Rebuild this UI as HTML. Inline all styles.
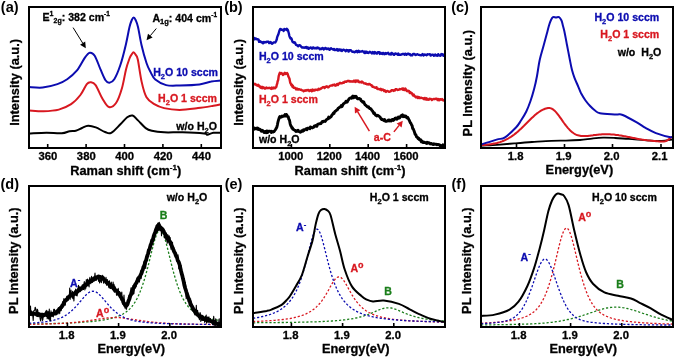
<!DOCTYPE html>
<html><head><meta charset="utf-8"><style>
html,body{margin:0;padding:0;background:#fff;width:675px;height:357px;overflow:hidden}
svg{display:block;will-change:transform}
</style></head><body><svg width="675" height="357" viewBox="0 0 675 357" font-family='"Liberation Sans", sans-serif' font-weight="bold"><clipPath id="cp1"><rect x="29" y="7" width="192" height="141"/></clipPath>
<g clip-path="url(#cp1)">
<path d="M29.0,133.5 C31.9,133.4 41.0,132.9 46.5,132.8 C52.0,132.8 58.0,133.5 61.9,133.2 C65.8,132.9 67.3,131.6 69.6,131.2 C71.9,130.8 73.7,131.2 75.8,130.7 C77.9,130.2 80.0,128.8 82.0,128.0 C84.0,127.2 85.8,125.9 88.1,125.8 C90.4,125.7 93.0,126.4 95.8,127.4 C98.6,128.4 102.4,131.1 105.0,132.0 C107.6,132.9 108.6,134.1 111.2,132.8 C113.8,131.5 117.7,126.9 120.4,124.3 C123.1,121.7 125.2,118.8 127.2,117.3 C129.2,115.8 130.8,115.0 132.6,115.5 C134.4,116.0 135.8,118.3 138.0,120.4 C140.2,122.5 143.4,126.4 145.7,128.1 C148.0,129.8 148.7,130.0 151.8,130.7 C154.9,131.4 159.0,132.0 164.1,132.3 C169.2,132.6 175.9,132.1 182.6,132.3 C189.3,132.5 200.1,133.1 204.2,133.5 C208.3,133.9 205.8,134.9 207.3,134.8 C208.8,134.7 211.1,133.1 213.4,132.8 C215.7,132.5 219.7,132.8 221.0,132.8" fill="none" stroke="#000" stroke-width="2.0" stroke-linejoin="round" stroke-linecap="round" />
<path d="M29.0,110.4 C31.4,110.5 38.4,111.3 43.4,111.2 C48.4,111.1 54.2,110.8 58.8,109.6 C63.4,108.4 67.5,106.6 71.1,104.2 C74.7,101.8 77.8,98.3 80.4,95.0 C83.0,91.7 85.1,86.2 86.8,84.1 C88.5,82.0 89.2,82.0 90.7,82.2 C92.2,82.4 93.6,82.3 95.6,85.1 C97.6,87.9 100.3,95.1 102.5,98.8 C104.7,102.5 106.6,106.3 108.9,107.0 C111.2,107.7 114.0,105.9 116.2,102.7 C118.4,99.5 120.4,93.5 122.0,88.0 C123.6,82.5 124.8,74.3 126.0,69.4 C127.2,64.5 128.6,61.0 129.5,58.5 C130.4,56.0 130.9,55.5 131.6,54.5 C132.3,53.5 132.8,52.3 133.5,52.3 C134.2,52.3 134.8,53.3 135.5,54.5 C136.2,55.7 136.8,55.0 137.8,59.5 C138.8,64.0 140.2,75.3 141.6,81.6 C143.0,87.9 144.4,93.5 146.5,97.3 C148.6,101.0 151.4,102.3 154.3,104.1 C157.2,105.9 159.9,107.1 164.1,108.1 C168.3,109.1 173.9,109.9 179.6,109.9 C185.2,109.9 192.4,108.8 198.0,108.1 C203.6,107.4 209.6,106.4 213.4,105.8 C217.2,105.2 219.7,104.5 221.0,104.2" fill="none" stroke="#d81820" stroke-width="2.0" stroke-linejoin="round" stroke-linecap="round" />
<path d="M29.0,87.0 C31.3,87.1 38.0,88.0 42.7,87.5 C47.4,87.0 53.3,85.5 57.4,84.1 C61.5,82.7 63.9,81.5 67.2,79.2 C70.5,76.9 74.0,74.0 77.0,70.4 C80.0,66.8 82.8,60.6 84.9,57.6 C87.0,54.6 88.2,53.0 89.8,52.7 C91.4,52.4 92.9,52.9 94.7,55.7 C96.5,58.5 98.7,65.3 100.5,69.4 C102.3,73.5 104.0,78.0 105.5,80.2 C107.0,82.4 107.9,82.9 109.4,82.7 C110.9,82.5 112.5,82.1 114.3,79.2 C116.1,76.3 118.2,71.4 120.2,65.5 C122.2,59.6 124.5,50.3 126.0,43.9 C127.5,37.5 128.5,31.0 129.5,27.0 C130.5,23.0 131.1,21.6 131.8,20.0 C132.5,18.4 133.1,17.4 133.7,17.4 C134.3,17.4 134.9,18.4 135.6,20.0 C136.3,21.6 137.0,22.8 138.0,27.0 C139.0,31.2 140.1,39.0 141.5,45.0 C142.9,51.0 145.0,58.5 146.5,63.0 C148.0,67.5 148.9,69.0 150.4,71.8 C151.9,74.6 152.7,77.4 155.3,79.6 C157.9,81.8 162.0,84.1 166.1,85.1 C170.2,86.1 174.2,85.6 179.8,85.5 C185.4,85.4 194.2,85.2 199.4,84.5 C204.6,83.8 207.6,82.2 211.2,81.6 C214.8,80.9 219.4,80.8 221.0,80.6" fill="none" stroke="#0c0cb0" stroke-width="2.0" stroke-linejoin="round" stroke-linecap="round" />
</g>
<clipPath id="cp2"><rect x="253" y="7" width="192" height="141"/></clipPath>
<g clip-path="url(#cp2)">
<path d="M253.0,128.6 L253.4,128.3 L254.0,129.2 L254.6,128.0 L255.4,128.9 L256.2,128.6 L257.1,128.1 L257.6,129.2 L258.2,128.4 L258.7,129.4 L259.3,129.0 L260.0,129.3 L260.6,130.2 L261.3,131.3 L262.0,130.2 L262.7,130.6 L263.4,131.6 L264.2,132.4 L264.8,131.7 L265.4,131.5 L266.1,132.7 L266.8,130.9 L267.5,132.6 L268.3,131.5 L269.0,131.2 L269.7,131.2 L270.5,131.5 L271.2,132.5 L271.8,131.2 L272.5,132.0 L273.0,132.0 L273.5,131.4 L274.0,131.6 L275.2,130.0 L275.8,129.1 L276.2,128.2 L276.7,127.6 L277.4,124.8 L278.0,121.8 L278.6,119.7 L279.3,117.5 L279.9,116.4 L280.6,117.2 L281.3,117.1 L282.0,116.1 L282.6,116.5 L283.2,116.0 L283.8,116.3 L284.4,115.7 L285.0,114.6 L285.6,116.0 L286.3,114.4 L287.0,115.4 L287.6,116.8 L288.2,116.7 L288.8,119.1 L289.5,120.3 L290.2,123.9 L290.9,125.9 L291.4,126.5 L291.9,128.0 L292.4,127.7 L292.9,129.2 L293.6,129.6 L294.4,130.1 L294.9,130.1 L295.5,131.1 L296.1,131.5 L296.7,130.7 L297.4,131.3 L298.1,130.2 L298.8,131.6 L299.5,131.6 L300.2,132.3 L300.9,131.9 L301.6,130.8 L302.2,130.9 L302.9,131.3 L303.5,129.8 L304.2,130.4 L304.9,129.6 L305.5,129.2 L306.2,128.7 L306.9,129.8 L307.6,128.2 L308.3,128.1 L309.1,128.1 L309.8,128.7 L310.4,126.9 L311.0,127.4 L311.7,127.4 L312.3,127.9 L312.9,127.5 L313.6,127.4 L314.3,126.0 L314.9,126.0 L315.6,125.6 L316.3,126.4 L316.9,126.3 L317.6,124.4 L318.3,124.1 L318.9,123.9 L319.6,123.6 L320.3,123.7 L321.0,123.5 L321.7,122.4 L322.4,121.4 L323.1,121.8 L323.8,121.2 L324.5,121.1 L325.2,121.4 L325.9,120.4 L326.6,119.5 L327.3,119.2 L328.0,118.8 L328.7,117.0 L329.4,118.1 L330.1,117.3 L330.7,117.0 L331.4,116.2 L332.0,114.9 L332.7,114.3 L333.3,113.1 L334.0,113.5 L334.6,111.8 L335.3,111.2 L335.9,110.9 L336.6,110.1 L337.2,109.9 L337.9,108.7 L338.5,108.0 L339.2,107.7 L339.9,107.0 L340.5,106.9 L341.2,105.6 L341.9,106.6 L342.6,105.5 L343.3,103.9 L344.0,103.4 L344.7,103.0 L345.4,102.4 L346.0,101.3 L346.7,102.2 L347.3,102.0 L347.9,100.4 L348.5,100.0 L349.0,98.8 L349.8,98.2 L350.5,98.1 L351.2,97.5 L351.8,98.2 L352.4,96.6 L352.9,96.1 L353.5,97.8 L354.2,96.9 L354.9,96.2 L355.5,97.1 L356.1,96.3 L356.7,97.5 L357.3,98.7 L357.9,98.8 L358.6,98.9 L359.2,98.4 L359.9,99.1 L360.6,99.2 L361.3,101.0 L362.0,101.1 L362.7,102.2 L363.3,101.8 L363.9,102.1 L364.5,103.9 L365.2,104.9 L365.8,105.3 L366.5,105.9 L367.1,106.6 L367.8,107.1 L368.5,106.8 L369.2,108.1 L369.8,108.5 L370.5,108.5 L371.2,109.2 L371.8,110.4 L372.5,110.9 L373.2,112.4 L373.8,113.5 L374.5,113.1 L375.2,114.7 L375.9,115.4 L376.6,115.9 L377.3,115.3 L378.0,115.5 L378.7,116.1 L379.4,116.5 L380.0,117.0 L380.7,118.3 L381.3,119.3 L381.9,119.6 L382.4,119.2 L383.2,120.0 L384.0,120.6 L384.6,119.5 L385.2,120.8 L385.8,121.4 L386.4,121.2 L387.0,121.2 L387.7,120.6 L388.5,120.0 L389.1,121.1 L389.8,120.1 L390.5,120.9 L391.2,121.1 L391.9,119.7 L392.7,119.5 L393.4,120.4 L394.2,119.7 L394.9,118.4 L395.6,118.1 L396.2,117.9 L396.9,119.2 L397.4,118.8 L398.3,117.1 L399.0,118.1 L399.6,118.1 L400.2,117.1 L400.7,116.1 L401.3,116.3 L401.9,115.3 L402.5,114.9 L403.2,116.7 L403.8,116.0 L404.5,115.8 L405.1,116.7 L405.8,116.0 L406.4,117.3 L407.0,117.9 L407.7,117.4 L408.3,118.5 L408.9,119.6 L409.5,120.7 L410.2,122.6 L410.9,123.3 L411.5,124.8 L412.1,125.6 L412.7,128.6 L413.3,129.0 L414.0,130.7 L414.6,132.5 L415.2,134.5 L415.9,134.8 L416.5,136.9 L417.1,137.0 L417.7,137.9 L418.2,138.7 L418.8,138.3 L419.4,139.7 L420.0,139.7 L420.6,139.8 L421.3,141.9 L422.1,141.0 L422.7,141.9 L423.2,142.6 L423.8,142.5 L424.5,142.2 L425.1,142.7 L425.7,142.9 L426.4,143.4 L427.1,142.2 L427.9,143.2 L428.6,142.6 L429.4,142.8 L430.2,143.9 L431.1,143.5 L431.7,143.7 L432.4,144.2 L433.1,144.6 L433.8,143.8 L434.6,144.3 L435.3,144.2 L436.2,144.3 L437.0,144.8 L437.8,144.4 L438.6,144.7 L439.4,144.7 L440.2,145.8 L441.0,145.4 L441.7,145.9 L442.4,146.1 L443.0,144.8 L443.6,145.5 L444.2,146.4 L444.6,146.2 L445.0,144.9" fill="none" stroke="#000" stroke-width="2.9" stroke-linejoin="round" stroke-linecap="round" />
<path d="M253.0,83.9 L253.4,84.5 L254.0,83.9 L254.7,84.2 L255.4,83.9 L256.2,85.0 L256.9,85.4 L257.6,85.7 L258.2,84.7 L258.6,86.0 L259.1,86.4 L259.6,85.9 L260.4,87.6 L261.6,88.0 L262.1,86.8 L262.7,88.2 L263.3,87.3 L264.0,87.6 L264.7,88.6 L265.5,88.5 L266.3,87.4 L267.1,88.0 L267.9,88.2 L268.7,88.0 L269.6,87.8 L270.4,88.1 L271.2,88.9 L271.9,87.6 L272.6,88.6 L273.3,88.3 L273.9,87.5 L274.4,87.9 L274.9,88.3 L276.3,86.9 L276.9,84.3 L277.2,83.9 L277.6,81.5 L278.2,79.8 L278.7,76.1 L279.2,74.5 L279.8,72.8 L280.4,73.8 L281.0,73.0 L281.6,73.1 L282.3,74.0 L282.9,75.0 L283.5,74.7 L284.2,73.4 L284.8,72.8 L285.4,74.0 L286.0,73.3 L286.6,73.8 L287.1,73.1 L287.6,73.8 L288.2,76.0 L288.8,77.3 L289.5,78.8 L290.2,82.6 L290.9,83.9 L291.4,85.2 L291.9,84.6 L292.4,86.7 L292.9,85.8 L293.6,87.8 L294.4,87.6 L294.9,87.7 L295.5,88.4 L296.1,89.4 L296.7,88.5 L297.4,88.6 L298.0,89.6 L298.7,89.3 L299.4,89.3 L300.2,89.7 L300.9,89.6 L301.6,90.1 L302.3,90.4 L302.9,90.4 L303.6,91.3 L304.3,90.5 L305.0,90.9 L305.7,90.3 L306.4,90.6 L307.1,90.0 L307.8,90.3 L308.5,89.9 L309.3,91.1 L310.0,90.7 L310.6,90.0 L311.2,90.4 L311.8,91.2 L312.4,89.6 L312.9,90.8 L313.5,90.0 L314.1,90.0 L314.7,90.5 L315.4,89.6 L316.1,89.6 L316.9,89.8 L317.7,90.1 L318.6,88.7 L319.6,89.4 L320.1,89.0 L320.7,88.8 L321.3,88.2 L321.9,88.0 L322.6,87.3 L323.2,87.3 L323.9,87.0 L324.6,88.0 L325.4,86.9 L326.1,86.6 L326.8,86.3 L327.6,87.4 L328.4,87.3 L329.1,86.7 L329.9,85.8 L330.7,85.6 L331.5,85.5 L332.2,85.6 L333.0,84.8 L333.7,85.1 L334.5,84.6 L335.2,85.7 L335.9,85.5 L336.6,84.6 L337.3,83.9 L338.0,85.0 L338.6,83.7 L339.2,83.6 L340.0,82.8 L340.8,83.3 L341.6,83.3 L342.4,83.1 L343.1,82.4 L343.8,82.7 L344.5,81.7 L345.2,81.9 L345.9,81.5 L346.6,81.8 L347.3,81.0 L347.9,80.9 L348.6,81.2 L349.2,81.0 L349.8,81.5 L350.5,81.3 L351.1,81.6 L351.7,81.4 L352.4,81.4 L353.0,81.7 L353.7,80.8 L354.5,80.7 L355.2,81.9 L355.9,80.4 L356.5,81.5 L357.2,81.4 L357.9,80.4 L358.5,81.9 L359.2,82.2 L359.8,81.8 L360.5,82.2 L361.2,82.5 L361.9,81.4 L362.5,82.3 L363.2,82.5 L364.0,83.3 L364.7,83.4 L365.3,83.7 L366.0,83.5 L366.7,84.3 L367.4,84.2 L368.1,84.5 L368.8,84.0 L369.5,84.0 L370.2,84.5 L370.9,85.2 L371.6,85.1 L372.4,86.8 L373.1,86.6 L373.8,87.1 L374.5,87.4 L375.2,87.8 L375.9,87.8 L376.5,87.2 L377.2,88.9 L377.8,89.0 L378.4,88.8 L379.2,89.1 L379.9,89.6 L380.7,88.8 L381.4,90.2 L382.1,89.6 L382.8,89.5 L383.4,90.0 L384.1,91.0 L384.7,90.2 L385.4,91.3 L386.0,91.9 L386.6,91.1 L387.2,91.0 L387.9,91.2 L388.5,91.6 L389.2,91.8 L390.0,91.5 L390.7,91.4 L391.4,90.3 L392.1,90.3 L392.8,90.3 L393.5,91.0 L394.2,90.1 L394.9,90.4 L395.5,89.2 L396.2,89.1 L396.8,89.4 L397.4,90.0 L398.2,89.9 L398.9,89.8 L399.6,89.0 L400.3,89.3 L401.0,89.1 L401.7,89.0 L402.3,88.4 L402.9,89.7 L403.5,88.5 L404.1,90.0 L404.8,90.0 L405.4,88.6 L406.0,89.6 L406.5,90.5 L407.1,91.2 L407.8,90.7 L408.6,90.9 L409.1,91.1 L409.7,92.9 L410.3,92.0 L411.0,93.2 L411.7,92.9 L412.3,94.2 L413.0,95.5 L413.7,94.5 L414.5,96.3 L415.1,96.2 L415.8,97.3 L416.5,97.3 L417.1,96.7 L417.7,98.1 L418.2,97.6 L418.6,97.0 L419.1,97.1 L419.6,98.1 L420.1,98.1 L420.7,97.9 L421.4,97.7 L422.3,98.2 L423.2,98.3 L424.3,99.3 L424.8,97.9 L425.3,99.2 L425.9,99.5 L426.6,98.2 L427.2,99.7 L427.9,99.4 L428.7,99.8 L429.4,98.7 L430.2,98.9 L431.0,99.0 L431.8,100.1 L432.6,99.4 L433.5,99.0 L434.3,99.2 L435.1,99.0 L436.0,98.6 L436.8,98.7 L437.6,100.1 L438.4,99.1 L439.2,100.3 L439.9,99.1 L440.6,99.2 L441.3,99.7 L442.0,99.1 L442.6,99.5 L443.2,100.5 L443.7,100.4 L444.2,100.3 L444.6,100.0 L445.0,100.5" fill="none" stroke="#d81820" stroke-width="2.4" stroke-linejoin="round" stroke-linecap="round" />
<path d="M253.0,40.4 L253.4,39.5 L253.9,39.6 L254.6,38.1 L255.3,39.1 L256.0,38.5 L256.7,39.2 L257.3,39.3 L257.9,39.3 L258.5,39.6 L259.1,41.9 L259.9,41.1 L260.7,42.1 L261.2,42.0 L261.8,42.0 L262.4,42.9 L263.0,43.3 L263.7,42.0 L264.4,42.6 L265.1,42.0 L265.8,42.4 L266.4,42.0 L267.1,41.6 L267.8,41.6 L268.5,41.7 L269.2,43.1 L270.0,42.5 L270.7,42.1 L271.5,43.5 L272.2,43.8 L272.9,42.9 L273.6,42.4 L274.2,42.5 L274.8,42.2 L275.3,42.4 L276.2,40.8 L276.8,39.3 L277.1,37.4 L277.6,36.1 L278.2,34.8 L278.9,32.5 L279.6,30.2 L280.2,29.0 L280.8,29.1 L281.3,29.3 L281.8,29.9 L282.4,29.7 L283.0,30.0 L283.7,30.9 L284.3,29.0 L285.0,29.3 L285.6,29.4 L286.2,29.9 L286.8,28.8 L287.3,29.3 L287.8,29.9 L288.3,31.5 L288.8,33.3 L289.4,36.1 L290.0,37.5 L290.5,38.5 L291.0,38.0 L291.6,38.9 L292.2,41.0 L292.8,42.1 L293.6,42.2 L294.2,42.9 L294.8,42.3 L295.4,43.4 L296.0,44.9 L296.7,45.1 L297.4,45.6 L298.2,46.2 L299.0,45.2 L299.8,45.3 L300.4,45.6 L301.0,46.5 L301.6,46.9 L302.2,47.6 L302.9,47.4 L303.6,47.4 L304.2,47.8 L304.9,47.4 L305.7,47.7 L306.4,46.9 L307.1,48.3 L307.9,47.4 L308.7,48.8 L309.3,48.3 L309.9,47.8 L310.5,47.5 L311.1,47.7 L311.7,48.5 L312.3,48.6 L312.9,47.5 L313.6,47.5 L314.2,48.3 L314.9,48.4 L315.6,48.1 L316.2,47.8 L316.9,48.5 L317.6,47.4 L318.4,47.9 L319.1,48.3 L319.8,49.2 L320.6,48.7 L321.2,49.1 L321.8,48.4 L322.4,48.0 L323.0,48.1 L323.7,49.4 L324.3,49.0 L324.9,48.3 L325.6,47.9 L326.2,48.8 L326.9,49.1 L327.6,48.7 L328.3,48.5 L328.9,49.3 L329.6,49.8 L330.3,48.6 L331.0,48.3 L331.8,48.9 L332.5,49.1 L333.2,49.7 L334.0,48.9 L334.7,50.0 L335.5,50.0 L336.3,49.6 L336.9,49.1 L337.5,50.6 L338.1,49.4 L338.7,50.4 L339.4,49.4 L340.0,49.4 L340.6,50.5 L341.2,49.7 L341.9,50.9 L342.5,50.2 L343.2,49.7 L343.8,49.8 L344.5,50.2 L345.1,50.7 L345.8,51.3 L346.5,49.9 L347.2,50.4 L347.9,50.2 L348.6,51.6 L349.3,50.2 L350.0,50.1 L350.7,50.2 L351.4,50.9 L352.2,51.8 L352.9,51.9 L353.7,51.7 L354.4,52.2 L355.2,52.1 L356.0,51.1 L356.8,50.9 L357.4,52.3 L358.0,52.0 L358.6,50.8 L359.3,52.0 L359.9,51.5 L360.5,51.6 L361.2,51.5 L361.8,51.3 L362.5,51.0 L363.1,51.6 L363.8,51.8 L364.4,52.9 L365.1,51.5 L365.8,53.0 L366.5,51.7 L367.2,52.0 L367.9,52.9 L368.5,53.0 L369.2,52.3 L369.9,51.7 L370.6,52.5 L371.3,52.4 L372.1,53.4 L372.8,52.1 L373.5,52.5 L374.2,53.5 L374.9,52.0 L375.6,52.7 L376.3,53.5 L377.0,53.5 L377.8,52.2 L378.5,52.2 L379.2,52.3 L379.9,53.9 L380.6,52.8 L381.3,53.7 L382.1,54.0 L382.8,53.0 L383.5,53.0 L384.2,54.2 L384.9,53.6 L385.5,53.0 L386.2,53.9 L386.9,53.2 L387.5,53.2 L388.2,52.7 L388.8,54.1 L389.5,54.4 L390.2,54.0 L390.9,54.5 L391.5,52.9 L392.2,53.3 L392.9,53.8 L393.6,54.7 L394.2,54.7 L394.9,53.7 L395.6,53.5 L396.3,53.9 L396.9,54.0 L397.6,54.8 L398.3,53.5 L399.0,54.7 L399.7,54.6 L400.4,54.7 L401.0,54.7 L401.7,54.4 L402.4,53.9 L403.1,53.9 L403.8,54.0 L404.5,54.8 L405.2,53.6 L405.9,53.8 L406.6,54.8 L407.3,54.0 L408.0,53.7 L408.7,53.6 L409.4,54.6 L410.1,54.2 L410.8,55.4 L411.5,55.2 L412.2,55.4 L412.9,54.2 L413.6,53.9 L414.3,53.9 L415.0,54.6 L415.7,55.0 L416.4,54.6 L417.2,54.2 L417.9,54.5 L418.7,54.9 L419.5,55.0 L420.3,55.2 L421.0,55.4 L421.8,55.1 L422.6,54.1 L423.5,55.4 L424.3,54.4 L425.1,54.9 L425.9,54.6 L426.7,55.3 L427.5,54.3 L428.3,54.4 L429.1,54.4 L429.9,54.2 L430.7,55.6 L431.5,55.0 L432.3,54.6 L433.1,54.7 L433.9,55.8 L434.6,54.9 L435.3,54.4 L436.1,55.5 L436.8,55.2 L437.5,55.8 L438.2,54.2 L438.8,54.9 L439.5,55.5 L440.1,55.6 L440.7,55.7 L441.3,54.1 L441.8,54.6 L442.4,54.3 L442.9,54.4 L443.4,55.8 L443.8,55.1 L444.2,55.8 L444.6,54.8 L445.0,55.7" fill="none" stroke="#0c0cb0" stroke-width="2.4" stroke-linejoin="round" stroke-linecap="round" />
</g>
<clipPath id="cp3"><rect x="481" y="7" width="192" height="141"/></clipPath>
<g clip-path="url(#cp3)">
<path d="M481.0,145.7 C483.7,145.5 491.4,145.2 497.0,144.8 C502.6,144.4 508.5,143.9 514.3,143.4 C520.1,142.9 525.8,142.4 532.0,142.0 C538.2,141.6 545.7,141.0 551.4,140.8 C557.1,140.6 561.2,140.7 566.0,140.6 C570.8,140.5 575.7,140.3 580.0,140.0 C584.3,139.7 588.2,139.0 592.0,138.6 C595.8,138.2 599.2,137.8 603.0,137.7 C606.8,137.6 610.7,137.8 615.0,138.0 C619.3,138.2 622.5,138.5 628.6,138.9 C634.7,139.3 645.3,140.3 651.4,140.6 C657.5,140.9 661.4,140.8 665.0,140.6 C668.6,140.4 671.7,139.7 673.0,139.5" fill="none" stroke="#000" stroke-width="1.8" stroke-linejoin="round" stroke-linecap="round" />
<path d="M481.0,145.2 L482.0,145.1 L483.0,145.1 L484.0,145.0 L485.0,144.9 L486.0,144.8 L487.0,144.7 L488.0,144.6 L489.0,144.5 L490.0,144.3 L491.0,144.2 L492.0,144.0 L493.0,143.8 L494.0,143.6 L495.0,143.4 L496.0,143.2 L497.0,143.0 L498.0,142.7 L499.0,142.4 L500.0,142.1 L501.0,141.7 L502.0,141.4 L503.0,141.0 L504.0,140.6 L505.0,140.1 L506.0,139.6 L507.0,139.1 L508.0,138.6 L509.0,138.0 L510.0,137.4 L511.0,136.8 L512.0,136.1 L513.0,135.4 L514.0,134.7 L515.0,133.9 L516.0,133.1 L517.0,132.3 L518.0,131.4 L519.0,130.5 L520.0,129.6 L521.0,128.7 L522.0,127.7 L523.0,126.7 L524.0,125.8 L525.0,124.8 L526.0,123.8 L527.0,122.8 L528.0,121.8 L529.0,120.8 L530.0,119.8 L531.0,118.8 L532.0,117.8 L533.0,116.9 L534.0,116.0 L535.0,115.1 L536.0,114.2 L537.0,113.4 L538.0,112.7 L539.0,112.0 L540.0,111.3 L541.0,110.7 L542.0,110.1 L543.0,109.6 L544.0,109.2 L545.0,108.8 L546.0,108.5 L547.0,108.3 L548.0,108.1 L549.0,108.0 L550.0,108.1 L551.0,108.4 L552.0,108.8 L553.0,109.4 L554.0,110.2 L555.0,111.1 L556.0,112.1 L557.0,113.3 L558.0,114.6 L559.0,115.9 L560.0,117.3 L561.0,118.7 L562.0,120.1 L563.0,121.6 L564.0,123.0 L565.0,124.3 L566.0,125.7 L567.0,126.9 L568.0,128.1 L569.0,129.2 L570.0,130.3 L571.0,131.2 L572.0,132.1 L573.0,132.8 L574.0,133.5 L575.0,134.1 L576.0,134.6 L577.0,135.0 L578.0,135.3 L579.0,135.6 L580.0,135.8 L581.0,136.0 L582.0,136.1 L583.0,136.1 L584.0,136.1 L585.0,136.1 L586.0,136.1 L587.0,136.0 L588.0,135.9 L589.0,135.8 L590.0,135.7 L591.0,135.5 L592.0,135.4 L593.0,135.3 L594.0,135.1 L595.0,135.0 L596.0,134.9 L597.0,134.8 L598.0,134.7 L599.0,134.6 L600.0,134.5 L601.0,134.4 L602.0,134.3 L603.0,134.3 L604.0,134.3 L605.0,134.2 L606.0,134.2 L607.0,134.2 L608.0,134.2 L609.0,134.3 L610.0,134.3 L611.0,134.4 L612.0,134.5 L613.0,134.5 L614.0,134.6 L615.0,134.7 L616.0,134.9 L617.0,135.0 L618.0,135.1 L619.0,135.3 L620.0,135.4 L621.0,135.6 L622.0,135.8 L623.0,136.0 L624.0,136.2 L625.0,136.3 L626.0,136.5 L627.0,136.7 L628.0,136.9 L629.0,137.1 L630.0,137.3 L631.0,137.5 L632.0,137.7 L633.0,137.9 L634.0,138.1 L635.0,138.3 L636.0,138.5 L637.0,138.7 L638.0,138.9 L639.0,139.1 L640.0,139.2 L641.0,139.4 L642.0,139.6 L643.0,139.7 L644.0,139.9 L645.0,140.0 L646.0,140.1 L647.0,140.3 L648.0,140.4 L649.0,140.5 L650.0,140.6 L651.0,140.7 L652.0,140.8 L653.0,140.9 L654.0,141.0 L655.0,141.1 L656.0,141.2 L657.0,141.3 L658.0,141.3 L659.0,141.4 L660.0,141.4 L661.0,141.5 L662.0,141.5 L663.0,141.5 L664.0,141.4 L665.0,141.3 L666.0,141.0 L667.0,140.5 L668.0,139.9 L669.0,139.1 L670.0,138.3 L671.0,137.5 L672.0,137.0 L673.0,136.8" fill="none" stroke="#d81820" stroke-width="2.0" stroke-linejoin="round" stroke-linecap="round" />
<path d="M481.0,144.5 C483.6,143.7 492.6,140.8 496.6,139.6 C500.6,138.4 501.7,139.4 505.0,137.3 C508.3,135.2 513.5,130.0 516.2,127.2 C518.9,124.4 519.3,123.1 521.0,120.5 C522.7,117.9 524.7,114.8 526.3,111.5 C527.9,108.2 529.2,104.7 530.5,101.0 C531.8,97.3 533.0,93.3 534.1,89.1 C535.2,84.9 536.1,80.8 537.0,76.0 C537.9,71.2 538.6,65.0 539.7,60.0 C540.8,55.0 542.3,50.4 543.5,46.0 C544.7,41.6 545.9,37.2 546.8,33.8 C547.7,30.4 548.3,27.8 549.0,25.5 C549.7,23.2 550.3,21.4 551.0,20.0 C551.7,18.6 552.2,17.6 553.0,17.2 C553.8,16.8 555.0,17.4 556.0,17.4 C557.0,17.4 558.1,16.7 559.0,17.2 C559.9,17.7 560.8,19.0 561.5,20.5 C562.2,22.0 562.5,24.2 563.0,26.0 C563.5,27.8 563.6,27.8 564.3,31.0 C565.0,34.2 566.1,40.2 567.0,45.0 C567.9,49.8 569.1,55.8 569.9,60.0 C570.7,64.2 571.2,67.0 572.0,70.0 C572.8,73.0 573.5,75.2 574.5,77.9 C575.5,80.6 576.9,83.4 578.0,86.0 C579.1,88.6 580.0,91.2 581.2,93.6 C582.5,96.0 584.0,98.4 585.5,100.5 C587.0,102.6 588.5,104.3 590.1,106.0 C591.7,107.7 593.4,109.3 595.0,110.5 C596.6,111.7 596.4,112.6 600.0,113.3 C603.6,114.0 612.7,114.1 616.5,114.4 C620.3,114.7 619.2,113.6 622.7,115.0 C626.2,116.4 633.4,120.5 637.2,122.7 C641.0,124.9 642.4,126.2 645.5,127.9 C648.6,129.6 651.8,131.6 655.9,133.1 C660.0,134.6 667.5,136.7 670.4,137.2 C673.2,137.7 672.6,136.2 673.0,136.0" fill="none" stroke="#0c0cb0" stroke-width="2.0" stroke-linejoin="round" stroke-linecap="round" />
</g>
<clipPath id="cp4"><rect x="29" y="186" width="192" height="141"/></clipPath>
<g clip-path="url(#cp4)">
<path d="M29.0,324.0 L30.0,324.0 L31.0,324.0 L32.0,324.0 L33.0,324.0 L34.0,323.9 L35.0,323.9 L36.0,323.9 L37.0,323.9 L38.0,323.9 L39.0,323.8 L40.0,323.8 L41.0,323.8 L42.0,323.8 L43.0,323.8 L44.0,323.8 L45.0,323.7 L46.0,323.7 L47.0,323.7 L48.0,323.7 L49.0,323.6 L50.0,323.6 L51.0,323.6 L52.0,323.6 L53.0,323.5 L54.0,323.5 L55.0,323.5 L56.0,323.5 L57.0,323.4 L58.0,323.4 L59.0,323.4 L60.0,323.3 L61.0,323.3 L62.0,323.3 L63.0,323.2 L64.0,323.2 L65.0,323.2 L66.0,323.1 L67.0,323.1 L68.0,323.0 L69.0,323.0 L70.0,322.9 L71.0,322.9 L72.0,322.9 L73.0,322.8 L74.0,322.8 L75.0,322.7 L76.0,322.7 L77.0,322.6 L78.0,322.5 L79.0,322.5 L80.0,322.4 L81.0,322.4 L82.0,322.3 L83.0,322.2 L84.0,322.2 L85.0,322.1 L86.0,322.0 L87.0,321.9 L88.0,321.8 L89.0,321.8 L90.0,321.7 L91.0,321.6 L92.0,321.5 L93.0,321.4 L94.0,321.3 L95.0,321.2 L96.0,321.0 L97.0,320.9 L98.0,320.8 L99.0,320.7 L100.0,320.5 L101.0,320.4 L102.0,320.2 L103.0,320.1 L104.0,319.9 L105.0,319.7 L106.0,319.6 L107.0,319.4 L108.0,319.2 L109.0,318.9 L110.0,318.7 L111.0,318.5 L112.0,318.2 L113.0,318.0 L114.0,317.7 L115.0,317.4 L116.0,317.0 L117.0,316.7 L118.0,316.3 L119.0,315.9 L120.0,315.5 L121.0,315.0 L122.0,314.5 L123.0,314.0 L124.0,313.4 L125.0,312.8 L126.0,312.1 L127.0,311.3 L128.0,310.5 L129.0,309.6 L130.0,308.6 L131.0,307.5 L132.0,306.4 L133.0,305.1 L134.0,303.7 L135.0,302.1 L136.0,300.4 L137.0,298.6 L138.0,296.6 L139.0,294.4 L140.0,292.1 L141.0,289.6 L142.0,286.8 L143.0,283.9 L144.0,280.8 L145.0,277.5 L146.0,274.0 L147.0,270.3 L148.0,266.5 L149.0,262.5 L150.0,258.4 L151.0,254.3 L152.0,250.2 L153.0,246.3 L154.0,242.5 L155.0,239.0 L156.0,236.0 L157.0,233.4 L158.0,231.6 L159.0,230.4 L160.0,230.0 L161.0,230.4 L162.0,231.6 L163.0,233.4 L164.0,236.0 L165.0,239.0 L166.0,242.5 L167.0,246.3 L168.0,250.2 L169.0,254.3 L170.0,258.4 L171.0,262.5 L172.0,266.5 L173.0,270.3 L174.0,274.0 L175.0,277.5 L176.0,280.8 L177.0,283.9 L178.0,286.8 L179.0,289.6 L180.0,292.1 L181.0,294.4 L182.0,296.6 L183.0,298.6 L184.0,300.4 L185.0,302.1 L186.0,303.7 L187.0,305.1 L188.0,306.4 L189.0,307.5 L190.0,308.6 L191.0,309.6 L192.0,310.5 L193.0,311.3 L194.0,312.1 L195.0,312.8 L196.0,313.4 L197.0,314.0 L198.0,314.5 L199.0,315.0 L200.0,315.5 L201.0,315.9 L202.0,316.3 L203.0,316.7 L204.0,317.0 L205.0,317.4 L206.0,317.7 L207.0,318.0 L208.0,318.2 L209.0,318.5 L210.0,318.7 L211.0,318.9 L212.0,319.2 L213.0,319.4 L214.0,319.6 L215.0,319.7 L216.0,319.9 L217.0,320.1 L218.0,320.2 L219.0,320.4 L220.0,320.5 L221.0,320.7" fill="none" stroke="#1a7e1a" stroke-width="1.3" stroke-linejoin="round" stroke-linecap="butt" stroke-dasharray="2.2,1.9"/>
<path d="M29.0,324.3 L30.0,324.3 L31.0,324.3 L32.0,324.3 L33.0,324.3 L34.0,324.3 L35.0,324.2 L36.0,324.2 L37.0,324.2 L38.0,324.2 L39.0,324.2 L40.0,324.2 L41.0,324.1 L42.0,324.1 L43.0,324.1 L44.0,324.1 L45.0,324.0 L46.0,324.0 L47.0,324.0 L48.0,324.0 L49.0,323.9 L50.0,323.9 L51.0,323.9 L52.0,323.8 L53.0,323.8 L54.0,323.7 L55.0,323.7 L56.0,323.7 L57.0,323.6 L58.0,323.6 L59.0,323.5 L60.0,323.5 L61.0,323.4 L62.0,323.4 L63.0,323.3 L64.0,323.3 L65.0,323.2 L66.0,323.1 L67.0,323.1 L68.0,323.0 L69.0,322.9 L70.0,322.8 L71.0,322.8 L72.0,322.7 L73.0,322.6 L74.0,322.5 L75.0,322.4 L76.0,322.3 L77.0,322.2 L78.0,322.1 L79.0,322.0 L80.0,321.9 L81.0,321.8 L82.0,321.6 L83.0,321.5 L84.0,321.4 L85.0,321.2 L86.0,321.1 L87.0,321.0 L88.0,320.8 L89.0,320.7 L90.0,320.5 L91.0,320.4 L92.0,320.2 L93.0,320.1 L94.0,319.9 L95.0,319.7 L96.0,319.6 L97.0,319.4 L98.0,319.3 L99.0,319.1 L100.0,318.9 L101.0,318.8 L102.0,318.6 L103.0,318.5 L104.0,318.3 L105.0,318.2 L106.0,318.1 L107.0,318.0 L108.0,317.9 L109.0,317.8 L110.0,317.7 L111.0,317.6 L112.0,317.6 L113.0,317.5 L114.0,317.5 L115.0,317.5 L116.0,317.5 L117.0,317.5 L118.0,317.6 L119.0,317.6 L120.0,317.7 L121.0,317.8 L122.0,317.9 L123.0,318.0 L124.0,318.1 L125.0,318.2 L126.0,318.3 L127.0,318.5 L128.0,318.6 L129.0,318.8 L130.0,318.9 L131.0,319.1 L132.0,319.3 L133.0,319.4 L134.0,319.6 L135.0,319.7 L136.0,319.9 L137.0,320.1 L138.0,320.2 L139.0,320.4 L140.0,320.5 L141.0,320.7 L142.0,320.8 L143.0,321.0 L144.0,321.1 L145.0,321.2 L146.0,321.4 L147.0,321.5 L148.0,321.6 L149.0,321.8 L150.0,321.9 L151.0,322.0 L152.0,322.1 L153.0,322.2 L154.0,322.3 L155.0,322.4 L156.0,322.5 L157.0,322.6 L158.0,322.7 L159.0,322.8 L160.0,322.8 L161.0,322.9 L162.0,323.0 L163.0,323.1 L164.0,323.1 L165.0,323.2 L166.0,323.3 L167.0,323.3 L168.0,323.4 L169.0,323.4 L170.0,323.5 L171.0,323.5 L172.0,323.6 L173.0,323.6 L174.0,323.7 L175.0,323.7 L176.0,323.7 L177.0,323.8 L178.0,323.8 L179.0,323.9 L180.0,323.9 L181.0,323.9 L182.0,324.0 L183.0,324.0 L184.0,324.0 L185.0,324.0 L186.0,324.1 L187.0,324.1 L188.0,324.1 L189.0,324.1 L190.0,324.2 L191.0,324.2 L192.0,324.2 L193.0,324.2 L194.0,324.2 L195.0,324.2 L196.0,324.3 L197.0,324.3 L198.0,324.3 L199.0,324.3 L200.0,324.3 L201.0,324.3 L202.0,324.4 L203.0,324.4 L204.0,324.4 L205.0,324.4 L206.0,324.4 L207.0,324.4 L208.0,324.4 L209.0,324.4 L210.0,324.5 L211.0,324.5 L212.0,324.5 L213.0,324.5 L214.0,324.5 L215.0,324.5 L216.0,324.5 L217.0,324.5 L218.0,324.5 L219.0,324.5 L220.0,324.5 L221.0,324.6" fill="none" stroke="#d81820" stroke-width="1.3" stroke-linejoin="round" stroke-linecap="butt" stroke-dasharray="2.2,1.9"/>
<path d="M29.0,323.2 L30.0,323.1 L31.0,323.1 L32.0,323.0 L33.0,322.9 L34.0,322.9 L35.0,322.8 L36.0,322.7 L37.0,322.6 L38.0,322.6 L39.0,322.5 L40.0,322.4 L41.0,322.3 L42.0,322.2 L43.0,322.1 L44.0,322.0 L45.0,321.8 L46.0,321.7 L47.0,321.6 L48.0,321.4 L49.0,321.2 L50.0,321.0 L51.0,320.9 L52.0,320.6 L53.0,320.4 L54.0,320.2 L55.0,319.9 L56.0,319.6 L57.0,319.3 L58.0,318.9 L59.0,318.6 L60.0,318.2 L61.0,317.8 L62.0,317.3 L63.0,316.8 L64.0,316.3 L65.0,315.7 L66.0,315.1 L67.0,314.4 L68.0,313.7 L69.0,312.9 L70.0,312.1 L71.0,311.3 L72.0,310.4 L73.0,309.5 L74.0,308.5 L75.0,307.5 L76.0,306.4 L77.0,305.3 L78.0,304.2 L79.0,303.0 L80.0,301.8 L81.0,300.7 L82.0,299.5 L83.0,298.3 L84.0,297.1 L85.0,296.1 L86.0,295.0 L87.0,294.1 L88.0,293.2 L89.0,292.5 L90.0,291.9 L91.0,291.5 L92.0,291.3 L93.0,291.2 L94.0,291.3 L95.0,291.6 L96.0,292.0 L97.0,292.6 L98.0,293.4 L99.0,294.3 L100.0,295.2 L101.0,296.3 L102.0,297.4 L103.0,298.5 L104.0,299.7 L105.0,300.9 L106.0,302.1 L107.0,303.3 L108.0,304.4 L109.0,305.5 L110.0,306.6 L111.0,307.7 L112.0,308.7 L113.0,309.7 L114.0,310.6 L115.0,311.5 L116.0,312.3 L117.0,313.1 L118.0,313.8 L119.0,314.5 L120.0,315.2 L121.0,315.8 L122.0,316.4 L123.0,316.9 L124.0,317.4 L125.0,317.8 L126.0,318.3 L127.0,318.7 L128.0,319.0 L129.0,319.4 L130.0,319.7 L131.0,319.9 L132.0,320.2 L133.0,320.5 L134.0,320.7 L135.0,320.9 L136.0,321.1 L137.0,321.3 L138.0,321.4 L139.0,321.6 L140.0,321.7 L141.0,321.9 L142.0,322.0 L143.0,322.1 L144.0,322.2 L145.0,322.3 L146.0,322.4 L147.0,322.5 L148.0,322.6 L149.0,322.7 L150.0,322.7 L151.0,322.8 L152.0,322.9 L153.0,322.9 L154.0,323.0 L155.0,323.1 L156.0,323.1 L157.0,323.2 L158.0,323.2 L159.0,323.3 L160.0,323.3 L161.0,323.4 L162.0,323.4 L163.0,323.5 L164.0,323.5 L165.0,323.5 L166.0,323.6 L167.0,323.6 L168.0,323.6 L169.0,323.7 L170.0,323.7 L171.0,323.7 L172.0,323.8 L173.0,323.8 L174.0,323.8 L175.0,323.9 L176.0,323.9 L177.0,323.9 L178.0,323.9 L179.0,324.0 L180.0,324.0 L181.0,324.0 L182.0,324.0 L183.0,324.0 L184.0,324.1 L185.0,324.1 L186.0,324.1 L187.0,324.1 L188.0,324.1 L189.0,324.2 L190.0,324.2 L191.0,324.2 L192.0,324.2 L193.0,324.2 L194.0,324.2 L195.0,324.2 L196.0,324.3 L197.0,324.3 L198.0,324.3 L199.0,324.3 L200.0,324.3 L201.0,324.3 L202.0,324.3 L203.0,324.4 L204.0,324.4 L205.0,324.4 L206.0,324.4 L207.0,324.4 L208.0,324.4 L209.0,324.4 L210.0,324.4 L211.0,324.4 L212.0,324.4 L213.0,324.5 L214.0,324.5 L215.0,324.5 L216.0,324.5 L217.0,324.5 L218.0,324.5 L219.0,324.5 L220.0,324.5 L221.0,324.5" fill="none" stroke="#0c0cb0" stroke-width="1.3" stroke-linejoin="round" stroke-linecap="butt" stroke-dasharray="2.2,1.9"/>
<path d="M29.0,312.9 L29.4,312.7 L29.9,313.6 L30.4,314.0 L31.0,312.8 L31.6,313.8 L32.3,314.0 L33.1,313.5 L33.8,313.9 L34.6,313.7 L35.4,314.0 L36.2,314.2 L37.0,314.9 L37.8,315.1 L38.6,314.5 L39.3,314.2 L39.9,314.8 L40.6,315.4 L41.3,314.6 L42.0,314.8 L42.6,314.7 L43.3,315.6 L44.0,315.2 L44.7,314.4 L45.4,314.4 L46.1,314.9 L46.8,315.1 L47.4,315.2 L48.1,314.2 L48.7,314.3 L49.3,315.0 L49.9,314.5 L50.5,314.2 L51.3,314.0 L52.1,314.9 L52.8,313.7 L53.4,314.0 L54.0,313.4 L54.6,313.3 L55.3,313.7 L55.9,313.5 L56.5,312.0 L57.2,311.2 L58.0,311.4 L58.6,309.9 L59.3,308.8 L60.0,309.3 L60.7,307.6 L61.4,307.2 L62.2,305.5 L62.9,305.2 L63.7,303.4 L64.4,301.9 L65.1,300.6 L65.8,300.5 L66.5,299.7 L67.2,299.4 L67.8,297.3 L68.5,297.4 L69.2,296.4 L69.9,296.1 L70.5,295.1 L71.1,295.0 L71.7,295.0 L72.3,295.3 L72.9,293.7 L73.5,293.9 L74.2,294.0 L74.9,293.7 L75.5,292.1 L76.2,291.5 L76.8,292.3 L77.5,291.8 L78.2,290.5 L79.0,289.3 L79.7,290.2 L80.4,288.8 L81.1,289.0 L81.8,288.1 L82.5,287.9 L83.1,286.3 L83.7,286.9 L84.3,285.6 L85.1,285.2 L85.8,285.4 L86.5,284.8 L87.1,283.2 L87.7,282.8 L88.2,282.6 L88.8,282.4 L89.3,281.7 L89.9,280.9 L90.6,280.6 L91.2,281.0 L91.8,280.8 L92.5,279.1 L93.1,279.5 L93.7,279.5 L94.3,278.1 L95.0,279.0 L95.7,277.6 L96.3,278.0 L96.9,277.5 L97.6,277.3 L98.3,276.5 L99.0,276.6 L99.8,276.9 L100.6,276.9 L101.2,277.5 L101.8,277.6 L102.4,278.1 L103.1,278.0 L103.8,279.6 L104.5,280.0 L105.2,280.3 L105.9,281.8 L106.6,282.6 L107.2,282.7 L107.9,282.9 L108.5,284.0 L109.0,283.9 L109.8,284.6 L110.5,285.7 L111.1,285.7 L111.7,286.8 L112.2,287.4 L112.8,287.1 L113.4,288.6 L114.0,288.3 L114.6,290.0 L115.3,290.6 L115.9,290.8 L116.6,290.6 L117.3,292.0 L117.9,292.5 L118.6,294.1 L119.3,293.6 L120.0,295.6 L120.7,296.9 L121.4,297.8 L122.1,299.5 L122.8,300.0 L123.5,302.8 L124.2,303.3 L124.9,305.1 L125.6,305.6 L126.3,304.5 L127.0,304.9 L127.6,304.1 L128.3,301.4 L128.9,300.1 L129.5,298.8 L130.2,295.8 L130.9,294.9 L131.7,291.8 L132.5,290.7 L133.1,288.4 L133.7,287.8 L134.3,287.3 L135.0,284.9 L135.7,283.8 L136.4,282.9 L137.1,281.3 L137.8,279.6 L138.5,278.5 L139.2,277.0 L139.9,276.8 L140.6,274.9 L141.3,273.7 L142.0,270.9 L142.7,270.1 L143.4,267.1 L144.1,265.8 L144.8,263.9 L145.5,261.3 L146.2,260.0 L146.8,257.3 L147.5,255.1 L148.2,253.4 L148.9,250.1 L149.5,249.4 L150.1,246.9 L150.7,244.7 L151.3,243.7 L152.1,240.4 L153.0,239.2 L153.7,236.2 L154.5,233.8 L155.2,232.5 L155.8,230.2 L156.5,228.3 L157.1,227.9 L157.6,225.8 L158.3,225.8 L158.8,224.5 L159.2,225.4 L159.8,226.9 L160.8,227.6 L161.3,228.4 L161.8,228.6 L162.4,229.0 L163.0,230.0 L163.7,231.2 L164.4,233.1 L165.1,233.9 L165.8,235.3 L166.6,237.2 L167.3,237.2 L168.1,238.7 L168.8,240.7 L169.5,241.1 L170.2,242.4 L170.9,244.3 L171.6,245.4 L172.3,247.2 L173.0,248.5 L173.7,250.6 L174.4,252.2 L175.1,253.1 L175.8,255.4 L176.5,256.8 L177.1,257.9 L177.8,260.9 L178.4,261.4 L179.0,263.0 L179.6,264.6 L180.4,268.1 L181.1,271.2 L181.8,273.9 L182.4,276.1 L183.0,278.8 L183.6,281.2 L184.3,285.0 L185.0,287.6 L185.8,290.0 L186.4,292.1 L186.9,293.5 L187.5,296.0 L188.1,297.4 L188.7,298.4 L189.3,301.1 L189.9,301.4 L190.6,303.9 L191.2,305.2 L192.0,306.5 L192.7,307.7 L193.5,310.2 L194.3,310.2 L195.2,312.3 L195.8,313.6 L196.4,312.9 L197.0,313.6 L197.6,314.8 L198.3,315.2 L199.0,315.9 L199.7,316.7 L200.4,316.1 L201.1,316.8 L201.9,317.2 L202.6,317.2 L203.4,318.9 L204.1,319.1 L204.9,319.3 L205.6,318.5 L206.3,320.2 L207.0,320.3 L207.7,320.2 L208.4,320.9 L209.1,320.7 L209.7,320.6 L210.3,320.7 L210.9,321.2 L211.8,321.3 L212.6,322.1 L213.4,323.1 L214.3,323.3 L215.1,323.8 L215.8,323.8 L216.6,323.3 L217.3,323.9 L218.0,323.9 L218.6,324.6 L219.2,324.3 L219.7,324.0 L220.2,324.7 L220.6,325.3 L221.0,324.2" fill="none" stroke="#000" stroke-width="3.8" stroke-linejoin="round" stroke-linecap="round" />
<path d="M29.0,313.4 L29.2,312.7 L29.5,313.0 L29.8,315.4 L30.2,313.0 L30.5,306.1 L30.9,313.4 L31.3,310.9 L31.8,315.6 L32.2,311.9 L32.7,314.3 L33.2,320.5 L33.7,310.9 L34.2,310.8 L34.7,310.1 L35.2,307.2 L35.8,308.9 L36.3,315.7 L36.8,312.8 L37.3,309.2 L37.8,310.4 L38.3,316.8 L38.8,312.6 L39.3,313.9 L39.7,316.0 L40.2,319.1 L40.6,320.9 L41.1,318.2 L41.5,315.5 L42.0,315.7 L42.5,320.5 L42.9,319.4 L43.4,314.2 L43.9,316.5 L44.4,316.0 L44.8,315.3 L45.3,313.6 L45.8,311.1 L46.2,313.4 L46.7,310.4 L47.2,318.6 L47.6,316.5 L48.0,311.3 L48.5,319.0 L48.9,317.5 L49.3,309.0 L49.7,320.2 L50.1,317.0 L50.5,320.7 L51.0,310.7 L51.5,315.9 L52.0,315.5 L52.5,314.7 L52.9,314.5 L53.3,317.0 L53.7,309.3 L54.1,309.9 L54.5,309.3 L54.9,311.6 L55.3,311.2 L55.7,313.9 L56.2,313.3 L56.6,312.3 L57.0,309.8 L57.5,310.1 L58.0,313.9 L58.4,312.9 L58.8,310.4 L59.2,308.7 L59.7,313.8 L60.1,306.7 L60.6,309.9 L61.0,310.8 L61.5,305.8 L62.0,308.4 L62.5,301.9 L62.9,307.6 L63.4,304.5 L63.9,298.5 L64.3,304.5 L64.8,299.2 L65.3,305.1 L65.7,298.6 L66.2,299.5 L66.6,300.3 L67.0,297.9 L67.4,299.2 L67.8,296.3 L68.3,299.5 L68.8,297.0 L69.3,297.2 L69.7,288.0 L70.1,299.4 L70.6,295.7 L71.0,290.0 L71.4,295.4 L71.8,296.3 L72.2,297.9 L72.6,291.2 L73.0,298.8 L73.5,293.5 L73.9,300.9 L74.4,292.9 L74.9,295.0 L75.3,291.6 L75.7,289.1 L76.2,295.4 L76.6,294.5 L77.1,296.0 L77.5,293.6 L78.0,289.0 L78.5,285.4 L79.0,288.1 L79.5,287.6 L79.9,286.8 L80.4,290.7 L80.9,289.6 L81.4,287.4 L81.8,288.4 L82.3,287.1 L82.7,287.8 L83.1,289.1 L83.5,289.5 L83.9,284.2 L84.3,281.5 L84.9,289.9 L85.4,285.5 L85.9,288.1 L86.3,279.5 L86.8,283.0 L87.2,283.8 L87.6,279.0 L88.0,281.5 L88.3,284.9 L88.7,285.6 L89.1,286.9 L89.5,279.2 L89.9,277.3 L90.3,282.8 L90.8,283.7 L91.2,281.2 L91.6,276.4 L92.0,282.4 L92.5,282.2 L92.9,281.2 L93.3,277.9 L93.7,280.0 L94.1,281.3 L94.6,277.0 L95.0,273.0 L95.4,279.3 L95.8,279.5 L96.2,277.9 L96.6,280.3 L97.0,275.6 L97.4,276.9 L97.8,276.1 L98.2,278.6 L98.7,281.5 L99.1,275.9 L99.6,282.9 L100.1,281.4 L100.6,279.4 L101.0,278.9 L101.4,282.7 L101.8,277.2 L102.2,277.7 L102.7,275.2 L103.2,280.2 L103.6,283.3 L104.1,281.3 L104.6,281.4 L105.1,280.0 L105.6,281.6 L106.0,277.3 L106.5,285.2 L107.0,281.3 L107.4,279.6 L107.8,281.1 L108.2,281.3 L108.6,286.7 L109.0,287.7 L109.5,280.9 L110.0,288.2 L110.5,288.5 L110.9,284.4 L111.3,282.1 L111.7,284.6 L112.0,285.3 L112.4,288.5 L112.8,286.8 L113.1,282.1 L113.6,289.3 L114.0,284.4 L114.4,292.1 L114.8,286.1 L115.2,288.0 L115.6,287.9 L116.1,289.2 L116.5,295.2 L116.9,294.2 L117.4,293.9 L117.8,293.5 L118.2,288.3 L118.7,291.9 L119.1,292.3 L119.6,291.5 L120.0,296.5 L120.4,293.4 L120.9,294.3 L121.3,294.2 L121.8,292.1 L122.2,301.1 L122.7,304.3 L123.1,301.8 L123.6,299.3 L124.0,295.0 L124.5,304.4 L125.0,308.1 L125.4,305.7 L125.9,307.8 L126.3,309.4 L126.7,308.1 L127.2,302.9 L127.6,306.7 L128.0,305.0 L128.4,297.1 L128.8,299.4 L129.2,295.1 L129.6,297.8 L130.0,298.5 L130.5,292.2 L131.0,287.9 L131.4,296.6 L132.0,292.6 L132.5,294.6 L132.9,285.5 L133.2,291.9 L133.6,294.1 L134.0,293.2 L134.4,285.8 L134.9,286.4 L135.3,284.4 L135.7,287.0 L136.2,286.4 L136.6,282.7 L137.1,277.6 L137.5,283.0 L138.0,278.6 L138.4,281.0 L138.9,279.0 L139.3,282.2 L139.8,279.8 L140.2,274.1 L140.7,275.5 L141.1,278.8 L141.6,270.8 L142.0,272.7 L142.5,273.8 L142.9,272.8 L143.4,269.3 L143.8,262.5 L144.3,261.3 L144.8,264.4 L145.2,263.4 L145.7,268.5 L146.2,256.8 L146.6,261.3 L147.1,258.7 L147.5,250.0 L148.0,251.1 L148.4,252.6 L148.9,249.2 L149.3,248.9 L149.7,249.4 L150.1,244.3 L150.5,246.9 L150.9,242.4 L151.3,241.6 L151.8,243.2 L152.4,238.3 L152.9,239.4 L153.4,241.9 L153.9,235.7 L154.4,233.9 L154.8,235.2 L155.3,230.7 L155.7,233.9 L156.1,225.8 L156.5,230.6 L156.9,226.3 L157.3,224.7 L157.6,231.8 L158.1,223.1 L158.5,230.4 L158.8,226.9 L159.0,229.3 L159.3,222.3 L159.6,229.4 L160.1,230.9 L160.8,227.2 L161.1,227.5 L161.5,235.8 L161.8,229.4 L162.2,228.2 L162.6,228.2 L163.0,232.1 L163.5,232.4 L163.9,232.7 L164.4,238.0 L164.9,232.7 L165.4,235.9 L165.8,239.6 L166.3,233.1 L166.8,240.1 L167.3,243.3 L167.8,234.6 L168.3,236.3 L168.8,237.4 L169.3,235.9 L169.7,243.7 L170.2,237.6 L170.7,245.6 L171.1,249.4 L171.6,241.1 L172.0,246.0 L172.5,242.2 L173.0,251.3 L173.5,247.7 L173.9,250.2 L174.4,252.2 L174.9,254.7 L175.3,253.1 L175.8,255.3 L176.3,254.7 L176.7,257.8 L177.1,255.0 L177.6,259.8 L178.0,254.9 L178.4,260.4 L178.8,268.7 L179.2,264.3 L179.6,261.4 L180.1,267.7 L180.6,265.7 L181.1,265.5 L181.5,270.0 L181.9,276.2 L182.3,277.0 L182.7,277.4 L183.1,276.8 L183.5,278.1 L183.9,287.2 L184.3,285.7 L184.8,283.9 L185.3,282.2 L185.8,286.1 L186.2,298.8 L186.5,289.0 L186.9,293.4 L187.3,295.4 L187.7,295.4 L188.1,296.2 L188.5,294.1 L188.9,296.2 L189.3,305.6 L189.7,299.4 L190.1,305.3 L190.6,298.7 L191.0,304.1 L191.5,306.7 L192.0,310.0 L192.5,304.5 L193.0,310.6 L193.5,310.9 L194.0,308.4 L194.6,312.9 L195.2,309.5 L195.6,310.3 L195.9,313.0 L196.3,305.3 L196.7,313.5 L197.2,311.3 L197.6,310.2 L198.0,313.7 L198.5,317.6 L198.9,314.5 L199.4,319.8 L199.9,312.8 L200.3,312.7 L200.8,321.5 L201.3,318.4 L201.8,320.3 L202.3,315.2 L202.8,320.4 L203.3,319.0 L203.7,320.4 L204.2,318.7 L204.7,322.5 L205.2,317.2 L205.7,316.4 L206.2,315.1 L206.6,323.2 L207.1,317.7 L207.6,317.0 L208.0,317.5 L208.5,319.2 L208.9,316.9 L209.3,320.0 L209.7,319.2 L210.1,319.6 L210.5,318.5 L210.9,321.7 L211.5,320.5 L212.0,322.5 L212.6,323.1 L213.1,323.6 L213.7,316.2 L214.2,321.3 L214.7,320.7 L215.2,325.6 L215.7,318.7 L216.2,321.4 L216.7,322.8 L217.2,322.8 L217.6,326.9 L218.0,322.7 L218.5,327.0 L218.9,319.8 L219.2,318.8 L219.6,328.0 L219.9,325.7 L220.2,326.0 L220.5,324.9 L220.8,326.1 L221.0,321.1" fill="none" stroke="#000" stroke-width="1.1" stroke-linejoin="round" stroke-linecap="round" />
</g>
<clipPath id="cp5"><rect x="253" y="186" width="192" height="141"/></clipPath>
<g clip-path="url(#cp5)">
<path d="M253.0,322.8 L254.0,322.8 L255.0,322.8 L256.0,322.7 L257.0,322.7 L258.0,322.7 L259.0,322.7 L260.0,322.7 L261.0,322.7 L262.0,322.7 L263.0,322.7 L264.0,322.7 L265.0,322.7 L266.0,322.7 L267.0,322.7 L268.0,322.7 L269.0,322.6 L270.0,322.6 L271.0,322.6 L272.0,322.6 L273.0,322.6 L274.0,322.6 L275.0,322.6 L276.0,322.6 L277.0,322.6 L278.0,322.6 L279.0,322.5 L280.0,322.5 L281.0,322.5 L282.0,322.5 L283.0,322.5 L284.0,322.5 L285.0,322.5 L286.0,322.5 L287.0,322.4 L288.0,322.4 L289.0,322.4 L290.0,322.4 L291.0,322.4 L292.0,322.4 L293.0,322.3 L294.0,322.3 L295.0,322.3 L296.0,322.3 L297.0,322.3 L298.0,322.3 L299.0,322.2 L300.0,322.2 L301.0,322.2 L302.0,322.2 L303.0,322.2 L304.0,322.1 L305.0,322.1 L306.0,322.1 L307.0,322.1 L308.0,322.0 L309.0,322.0 L310.0,322.0 L311.0,321.9 L312.0,321.9 L313.0,321.9 L314.0,321.8 L315.0,321.8 L316.0,321.8 L317.0,321.7 L318.0,321.7 L319.0,321.7 L320.0,321.6 L321.0,321.6 L322.0,321.5 L323.0,321.5 L324.0,321.4 L325.0,321.4 L326.0,321.3 L327.0,321.3 L328.0,321.2 L329.0,321.2 L330.0,321.1 L331.0,321.1 L332.0,321.0 L333.0,320.9 L334.0,320.8 L335.0,320.8 L336.0,320.7 L337.0,320.6 L338.0,320.5 L339.0,320.4 L340.0,320.3 L341.0,320.2 L342.0,320.1 L343.0,320.0 L344.0,319.9 L345.0,319.8 L346.0,319.7 L347.0,319.5 L348.0,319.4 L349.0,319.2 L350.0,319.1 L351.0,318.9 L352.0,318.8 L353.0,318.6 L354.0,318.4 L355.0,318.2 L356.0,318.0 L357.0,317.8 L358.0,317.5 L359.0,317.3 L360.0,317.0 L361.0,316.8 L362.0,316.5 L363.0,316.2 L364.0,315.9 L365.0,315.5 L366.0,315.2 L367.0,314.8 L368.0,314.5 L369.0,314.1 L370.0,313.7 L371.0,313.3 L372.0,312.9 L373.0,312.4 L374.0,312.0 L375.0,311.6 L376.0,311.1 L377.0,310.7 L378.0,310.3 L379.0,309.9 L380.0,309.5 L381.0,309.1 L382.0,308.8 L383.0,308.5 L384.0,308.3 L385.0,308.1 L386.0,307.9 L387.0,307.8 L388.0,307.8 L389.0,307.8 L390.0,307.9 L391.0,308.0 L392.0,308.2 L393.0,308.5 L394.0,308.8 L395.0,309.1 L396.0,309.4 L397.0,309.8 L398.0,310.2 L399.0,310.6 L400.0,311.1 L401.0,311.5 L402.0,311.9 L403.0,312.4 L404.0,312.8 L405.0,313.2 L406.0,313.6 L407.0,314.0 L408.0,314.4 L409.0,314.8 L410.0,315.1 L411.0,315.5 L412.0,315.8 L413.0,316.1 L414.0,316.4 L415.0,316.7 L416.0,317.0 L417.0,317.2 L418.0,317.5 L419.0,317.7 L420.0,317.9 L421.0,318.1 L422.0,318.3 L423.0,318.5 L424.0,318.7 L425.0,318.9 L426.0,319.1 L427.0,319.2 L428.0,319.4 L429.0,319.5 L430.0,319.6 L431.0,319.8 L432.0,319.9 L433.0,320.0 L434.0,320.1 L435.0,320.2 L436.0,320.3 L437.0,320.4 L438.0,320.5 L439.0,320.6 L440.0,320.7 L441.0,320.8 L442.0,320.8 L443.0,320.9 L444.0,321.0 L445.0,321.0" fill="none" stroke="#1a7e1a" stroke-width="1.3" stroke-linejoin="round" stroke-linecap="butt" stroke-dasharray="2.2,1.9"/>
<path d="M253.0,321.6 L254.0,321.5 L255.0,321.5 L256.0,321.4 L257.0,321.4 L258.0,321.4 L259.0,321.3 L260.0,321.3 L261.0,321.2 L262.0,321.2 L263.0,321.1 L264.0,321.1 L265.0,321.0 L266.0,320.9 L267.0,320.9 L268.0,320.8 L269.0,320.8 L270.0,320.7 L271.0,320.6 L272.0,320.5 L273.0,320.5 L274.0,320.4 L275.0,320.3 L276.0,320.2 L277.0,320.1 L278.0,320.0 L279.0,319.9 L280.0,319.8 L281.0,319.7 L282.0,319.6 L283.0,319.5 L284.0,319.4 L285.0,319.2 L286.0,319.1 L287.0,318.9 L288.0,318.8 L289.0,318.6 L290.0,318.5 L291.0,318.3 L292.0,318.1 L293.0,317.9 L294.0,317.7 L295.0,317.5 L296.0,317.2 L297.0,317.0 L298.0,316.7 L299.0,316.4 L300.0,316.1 L301.0,315.8 L302.0,315.5 L303.0,315.1 L304.0,314.7 L305.0,314.3 L306.0,313.9 L307.0,313.4 L308.0,312.9 L309.0,312.4 L310.0,311.8 L311.0,311.2 L312.0,310.5 L313.0,309.8 L314.0,309.1 L315.0,308.3 L316.0,307.4 L317.0,306.4 L318.0,305.4 L319.0,304.3 L320.0,303.2 L321.0,301.9 L322.0,300.6 L323.0,299.2 L324.0,297.7 L325.0,296.1 L326.0,294.5 L327.0,292.7 L328.0,291.0 L329.0,289.2 L330.0,287.3 L331.0,285.5 L332.0,283.8 L333.0,282.1 L334.0,280.7 L335.0,279.3 L336.0,278.3 L337.0,277.5 L338.0,277.0 L339.0,276.9 L340.0,277.1 L341.0,277.6 L342.0,278.5 L343.0,279.6 L344.0,280.9 L345.0,282.5 L346.0,284.1 L347.0,285.9 L348.0,287.7 L349.0,289.5 L350.0,291.3 L351.0,293.1 L352.0,294.8 L353.0,296.4 L354.0,298.0 L355.0,299.5 L356.0,300.9 L357.0,302.2 L358.0,303.4 L359.0,304.6 L360.0,305.6 L361.0,306.6 L362.0,307.6 L363.0,308.4 L364.0,309.2 L365.0,310.0 L366.0,310.7 L367.0,311.3 L368.0,311.9 L369.0,312.5 L370.0,313.0 L371.0,313.5 L372.0,314.0 L373.0,314.4 L374.0,314.8 L375.0,315.2 L376.0,315.6 L377.0,315.9 L378.0,316.2 L379.0,316.5 L380.0,316.8 L381.0,317.0 L382.0,317.3 L383.0,317.5 L384.0,317.7 L385.0,317.9 L386.0,318.1 L387.0,318.3 L388.0,318.5 L389.0,318.7 L390.0,318.8 L391.0,319.0 L392.0,319.1 L393.0,319.3 L394.0,319.4 L395.0,319.5 L396.0,319.6 L397.0,319.7 L398.0,319.9 L399.0,320.0 L400.0,320.1 L401.0,320.1 L402.0,320.2 L403.0,320.3 L404.0,320.4 L405.0,320.5 L406.0,320.6 L407.0,320.6 L408.0,320.7 L409.0,320.8 L410.0,320.8 L411.0,320.9 L412.0,321.0 L413.0,321.0 L414.0,321.1 L415.0,321.1 L416.0,321.2 L417.0,321.2 L418.0,321.3 L419.0,321.3 L420.0,321.4 L421.0,321.4 L422.0,321.4 L423.0,321.5 L424.0,321.5 L425.0,321.6 L426.0,321.6 L427.0,321.6 L428.0,321.7 L429.0,321.7 L430.0,321.7 L431.0,321.8 L432.0,321.8 L433.0,321.8 L434.0,321.8 L435.0,321.9 L436.0,321.9 L437.0,321.9 L438.0,322.0 L439.0,322.0 L440.0,322.0 L441.0,322.0 L442.0,322.0 L443.0,322.1 L444.0,322.1 L445.0,322.1" fill="none" stroke="#d81820" stroke-width="1.3" stroke-linejoin="round" stroke-linecap="butt" stroke-dasharray="2.2,1.9"/>
<path d="M253.0,318.3 L254.0,318.2 L255.0,318.0 L256.0,317.8 L257.0,317.7 L258.0,317.5 L259.0,317.3 L260.0,317.1 L261.0,316.9 L262.0,316.7 L263.0,316.5 L264.0,316.2 L265.0,316.0 L266.0,315.7 L267.0,315.4 L268.0,315.1 L269.0,314.8 L270.0,314.5 L271.0,314.2 L272.0,313.8 L273.0,313.4 L274.0,313.0 L275.0,312.6 L276.0,312.1 L277.0,311.6 L278.0,311.1 L279.0,310.5 L280.0,309.9 L281.0,309.3 L282.0,308.6 L283.0,307.9 L284.0,307.1 L285.0,306.3 L286.0,305.4 L287.0,304.4 L288.0,303.4 L289.0,302.2 L290.0,301.0 L291.0,299.7 L292.0,298.3 L293.0,296.8 L294.0,295.1 L295.0,293.4 L296.0,291.4 L297.0,289.4 L298.0,287.1 L299.0,284.7 L300.0,282.1 L301.0,279.2 L302.0,276.2 L303.0,273.0 L304.0,269.5 L305.0,265.9 L306.0,262.1 L307.0,258.1 L308.0,254.1 L309.0,250.0 L310.0,246.0 L311.0,242.2 L312.0,238.6 L313.0,235.4 L314.0,232.8 L315.0,230.8 L316.0,229.6 L317.0,229.2 L318.0,229.6 L319.0,230.8 L320.0,232.8 L321.0,235.4 L322.0,238.6 L323.0,242.2 L324.0,246.0 L325.0,250.0 L326.0,254.1 L327.0,258.1 L328.0,262.1 L329.0,265.9 L330.0,269.5 L331.0,273.0 L332.0,276.2 L333.0,279.2 L334.0,282.1 L335.0,284.7 L336.0,287.1 L337.0,289.4 L338.0,291.4 L339.0,293.4 L340.0,295.1 L341.0,296.8 L342.0,298.3 L343.0,299.7 L344.0,301.0 L345.0,302.2 L346.0,303.4 L347.0,304.4 L348.0,305.4 L349.0,306.3 L350.0,307.1 L351.0,307.9 L352.0,308.6 L353.0,309.3 L354.0,309.9 L355.0,310.5 L356.0,311.1 L357.0,311.6 L358.0,312.1 L359.0,312.6 L360.0,313.0 L361.0,313.4 L362.0,313.8 L363.0,314.2 L364.0,314.5 L365.0,314.8 L366.0,315.1 L367.0,315.4 L368.0,315.7 L369.0,316.0 L370.0,316.2 L371.0,316.5 L372.0,316.7 L373.0,316.9 L374.0,317.1 L375.0,317.3 L376.0,317.5 L377.0,317.7 L378.0,317.8 L379.0,318.0 L380.0,318.2 L381.0,318.3 L382.0,318.4 L383.0,318.6 L384.0,318.7 L385.0,318.8 L386.0,319.0 L387.0,319.1 L388.0,319.2 L389.0,319.3 L390.0,319.4 L391.0,319.5 L392.0,319.6 L393.0,319.7 L394.0,319.8 L395.0,319.8 L396.0,319.9 L397.0,320.0 L398.0,320.1 L399.0,320.2 L400.0,320.2 L401.0,320.3 L402.0,320.4 L403.0,320.4 L404.0,320.5 L405.0,320.5 L406.0,320.6 L407.0,320.7 L408.0,320.7 L409.0,320.8 L410.0,320.8 L411.0,320.9 L412.0,320.9 L413.0,321.0 L414.0,321.0 L415.0,321.0 L416.0,321.1 L417.0,321.1 L418.0,321.2 L419.0,321.2 L420.0,321.2 L421.0,321.3 L422.0,321.3 L423.0,321.4 L424.0,321.4 L425.0,321.4 L426.0,321.5 L427.0,321.5 L428.0,321.5 L429.0,321.5 L430.0,321.6 L431.0,321.6 L432.0,321.6 L433.0,321.7 L434.0,321.7 L435.0,321.7 L436.0,321.7 L437.0,321.8 L438.0,321.8 L439.0,321.8 L440.0,321.8 L441.0,321.8 L442.0,321.9 L443.0,321.9 L444.0,321.9 L445.0,321.9" fill="none" stroke="#0c0cb0" stroke-width="1.3" stroke-linejoin="round" stroke-linecap="butt" stroke-dasharray="2.2,1.9"/>
<path d="M253.0,313.2 C255.3,312.8 263.6,311.5 266.8,310.9 C270.0,310.2 269.6,310.3 272.1,309.3 C274.6,308.3 279.2,306.3 281.6,304.8 C284.0,303.3 284.8,302.0 286.2,300.5 C287.6,299.0 288.4,298.4 290.0,296.0 C291.6,293.6 294.0,289.5 296.0,286.0 C298.0,282.5 299.9,280.0 301.9,275.0 C303.8,270.0 305.9,261.8 307.7,256.0 C309.5,250.2 311.3,245.5 312.6,240.3 C313.9,235.1 314.6,229.0 315.6,224.6 C316.6,220.2 317.6,216.2 318.5,213.8 C319.4,211.4 320.0,210.8 321.0,210.0 C322.0,209.2 323.3,208.8 324.4,208.9 C325.5,209.0 326.5,209.5 327.5,210.5 C328.5,211.5 329.2,211.1 330.5,215.0 C331.8,218.9 333.6,228.1 335.2,234.0 C336.8,239.9 338.4,244.7 340.0,250.7 C341.6,256.7 342.8,263.9 344.8,269.8 C346.8,275.8 349.1,282.0 351.9,286.4 C354.7,290.8 358.9,293.8 361.4,296.0 C363.8,298.2 364.7,298.7 366.6,299.6 C368.5,300.5 370.1,301.3 373.0,301.5 C375.9,301.7 379.5,300.2 383.8,300.6 C388.1,301.0 394.6,302.4 398.9,303.9 C403.2,305.3 406.1,307.5 409.7,309.3 C413.3,311.1 416.8,313.1 420.4,314.7 C424.0,316.3 427.1,317.8 431.2,319.0 C435.3,320.2 442.7,321.7 445.0,322.2" fill="none" stroke="#000" stroke-width="2.0" stroke-linejoin="round" stroke-linecap="round" />
</g>
<clipPath id="cp6"><rect x="481" y="186" width="192" height="141"/></clipPath>
<g clip-path="url(#cp6)">
<path d="M481.0,324.9 L482.0,324.9 L483.0,324.9 L484.0,324.9 L485.0,324.9 L486.0,324.8 L487.0,324.8 L488.0,324.8 L489.0,324.8 L490.0,324.8 L491.0,324.8 L492.0,324.8 L493.0,324.8 L494.0,324.8 L495.0,324.7 L496.0,324.7 L497.0,324.7 L498.0,324.7 L499.0,324.7 L500.0,324.7 L501.0,324.7 L502.0,324.7 L503.0,324.6 L504.0,324.6 L505.0,324.6 L506.0,324.6 L507.0,324.6 L508.0,324.6 L509.0,324.5 L510.0,324.5 L511.0,324.5 L512.0,324.5 L513.0,324.5 L514.0,324.4 L515.0,324.4 L516.0,324.4 L517.0,324.4 L518.0,324.4 L519.0,324.3 L520.0,324.3 L521.0,324.3 L522.0,324.2 L523.0,324.2 L524.0,324.2 L525.0,324.1 L526.0,324.1 L527.0,324.1 L528.0,324.0 L529.0,324.0 L530.0,324.0 L531.0,323.9 L532.0,323.9 L533.0,323.8 L534.0,323.8 L535.0,323.7 L536.0,323.7 L537.0,323.6 L538.0,323.5 L539.0,323.5 L540.0,323.4 L541.0,323.3 L542.0,323.2 L543.0,323.2 L544.0,323.1 L545.0,323.0 L546.0,322.9 L547.0,322.8 L548.0,322.7 L549.0,322.6 L550.0,322.5 L551.0,322.4 L552.0,322.3 L553.0,322.1 L554.0,322.0 L555.0,321.9 L556.0,321.7 L557.0,321.6 L558.0,321.4 L559.0,321.3 L560.0,321.1 L561.0,320.9 L562.0,320.7 L563.0,320.5 L564.0,320.4 L565.0,320.2 L566.0,319.9 L567.0,319.7 L568.0,319.5 L569.0,319.3 L570.0,319.0 L571.0,318.8 L572.0,318.5 L573.0,318.3 L574.0,318.0 L575.0,317.8 L576.0,317.5 L577.0,317.2 L578.0,316.9 L579.0,316.6 L580.0,316.3 L581.0,316.0 L582.0,315.7 L583.0,315.4 L584.0,315.0 L585.0,314.7 L586.0,314.4 L587.0,314.1 L588.0,313.7 L589.0,313.4 L590.0,313.0 L591.0,312.7 L592.0,312.4 L593.0,312.0 L594.0,311.7 L595.0,311.4 L596.0,311.0 L597.0,310.7 L598.0,310.4 L599.0,310.1 L600.0,309.8 L601.0,309.5 L602.0,309.2 L603.0,309.0 L604.0,308.7 L605.0,308.5 L606.0,308.2 L607.0,308.0 L608.0,307.8 L609.0,307.7 L610.0,307.5 L611.0,307.4 L612.0,307.3 L613.0,307.2 L614.0,307.1 L615.0,307.1 L616.0,307.1 L617.0,307.1 L618.0,307.1 L619.0,307.2 L620.0,307.3 L621.0,307.4 L622.0,307.5 L623.0,307.7 L624.0,307.8 L625.0,308.0 L626.0,308.2 L627.0,308.5 L628.0,308.7 L629.0,309.0 L630.0,309.2 L631.0,309.5 L632.0,309.8 L633.0,310.1 L634.0,310.4 L635.0,310.7 L636.0,311.0 L637.0,311.4 L638.0,311.7 L639.0,312.0 L640.0,312.4 L641.0,312.7 L642.0,313.0 L643.0,313.4 L644.0,313.7 L645.0,314.1 L646.0,314.4 L647.0,314.7 L648.0,315.0 L649.0,315.4 L650.0,315.7 L651.0,316.0 L652.0,316.3 L653.0,316.6 L654.0,316.9 L655.0,317.2 L656.0,317.5 L657.0,317.8 L658.0,318.0 L659.0,318.3 L660.0,318.5 L661.0,318.8 L662.0,319.0 L663.0,319.3 L664.0,319.5 L665.0,319.7 L666.0,319.9 L667.0,320.2 L668.0,320.4 L669.0,320.5 L670.0,320.7 L671.0,320.9 L672.0,321.1 L673.0,321.3" fill="none" stroke="#1a7e1a" stroke-width="1.3" stroke-linejoin="round" stroke-linecap="butt" stroke-dasharray="2.2,1.9"/>
<path d="M481.0,323.3 L482.0,323.3 L483.0,323.2 L484.0,323.2 L485.0,323.1 L486.0,323.0 L487.0,323.0 L488.0,322.9 L489.0,322.9 L490.0,322.8 L491.0,322.7 L492.0,322.7 L493.0,322.6 L494.0,322.5 L495.0,322.4 L496.0,322.3 L497.0,322.2 L498.0,322.2 L499.0,322.1 L500.0,322.0 L501.0,321.9 L502.0,321.7 L503.0,321.6 L504.0,321.5 L505.0,321.4 L506.0,321.3 L507.0,321.1 L508.0,321.0 L509.0,320.8 L510.0,320.7 L511.0,320.5 L512.0,320.3 L513.0,320.2 L514.0,320.0 L515.0,319.8 L516.0,319.6 L517.0,319.3 L518.0,319.1 L519.0,318.8 L520.0,318.6 L521.0,318.3 L522.0,318.0 L523.0,317.7 L524.0,317.3 L525.0,316.9 L526.0,316.5 L527.0,316.1 L528.0,315.6 L529.0,315.1 L530.0,314.5 L531.0,313.9 L532.0,313.3 L533.0,312.5 L534.0,311.7 L535.0,310.8 L536.0,309.9 L537.0,308.8 L538.0,307.6 L539.0,306.4 L540.0,305.0 L541.0,303.4 L542.0,301.7 L543.0,299.9 L544.0,297.9 L545.0,295.7 L546.0,293.3 L547.0,290.8 L548.0,288.0 L549.0,285.0 L550.0,281.9 L551.0,278.5 L552.0,274.9 L553.0,271.2 L554.0,267.3 L555.0,263.2 L556.0,259.1 L557.0,254.8 L558.0,250.6 L559.0,246.5 L560.0,242.5 L561.0,238.8 L562.0,235.5 L563.0,232.7 L564.0,230.4 L565.0,228.9 L566.0,228.1 L567.0,228.1 L568.0,228.9 L569.0,230.4 L570.0,232.7 L571.0,235.5 L572.0,238.8 L573.0,242.5 L574.0,246.5 L575.0,250.6 L576.0,254.8 L577.0,259.1 L578.0,263.2 L579.0,267.3 L580.0,271.2 L581.0,274.9 L582.0,278.5 L583.0,281.9 L584.0,285.0 L585.0,288.0 L586.0,290.8 L587.0,293.3 L588.0,295.7 L589.0,297.9 L590.0,299.9 L591.0,301.7 L592.0,303.4 L593.0,305.0 L594.0,306.4 L595.0,307.6 L596.0,308.8 L597.0,309.9 L598.0,310.8 L599.0,311.7 L600.0,312.5 L601.0,313.3 L602.0,313.9 L603.0,314.5 L604.0,315.1 L605.0,315.6 L606.0,316.1 L607.0,316.5 L608.0,316.9 L609.0,317.3 L610.0,317.7 L611.0,318.0 L612.0,318.3 L613.0,318.6 L614.0,318.8 L615.0,319.1 L616.0,319.3 L617.0,319.6 L618.0,319.8 L619.0,320.0 L620.0,320.2 L621.0,320.3 L622.0,320.5 L623.0,320.7 L624.0,320.8 L625.0,321.0 L626.0,321.1 L627.0,321.3 L628.0,321.4 L629.0,321.5 L630.0,321.6 L631.0,321.7 L632.0,321.9 L633.0,322.0 L634.0,322.1 L635.0,322.2 L636.0,322.2 L637.0,322.3 L638.0,322.4 L639.0,322.5 L640.0,322.6 L641.0,322.7 L642.0,322.7 L643.0,322.8 L644.0,322.9 L645.0,322.9 L646.0,323.0 L647.0,323.0 L648.0,323.1 L649.0,323.2 L650.0,323.2 L651.0,323.3 L652.0,323.3 L653.0,323.4 L654.0,323.4 L655.0,323.5 L656.0,323.5 L657.0,323.5 L658.0,323.6 L659.0,323.6 L660.0,323.7 L661.0,323.7 L662.0,323.7 L663.0,323.8 L664.0,323.8 L665.0,323.8 L666.0,323.9 L667.0,323.9 L668.0,323.9 L669.0,324.0 L670.0,324.0 L671.0,324.0 L672.0,324.1 L673.0,324.1" fill="none" stroke="#d81820" stroke-width="1.3" stroke-linejoin="round" stroke-linecap="butt" stroke-dasharray="2.2,1.9"/>
<path d="M481.0,323.8 L482.0,323.7 L483.0,323.7 L484.0,323.6 L485.0,323.5 L486.0,323.5 L487.0,323.4 L488.0,323.3 L489.0,323.3 L490.0,323.2 L491.0,323.1 L492.0,323.0 L493.0,322.9 L494.0,322.8 L495.0,322.7 L496.0,322.6 L497.0,322.5 L498.0,322.4 L499.0,322.3 L500.0,322.1 L501.0,322.0 L502.0,321.8 L503.0,321.6 L504.0,321.4 L505.0,321.2 L506.0,320.9 L507.0,320.6 L508.0,320.3 L509.0,320.0 L510.0,319.6 L511.0,319.1 L512.0,318.6 L513.0,318.1 L514.0,317.5 L515.0,316.8 L516.0,316.0 L517.0,315.1 L518.0,314.1 L519.0,313.1 L520.0,311.8 L521.0,310.5 L522.0,309.1 L523.0,307.5 L524.0,305.7 L525.0,303.8 L526.0,301.8 L527.0,299.6 L528.0,297.3 L529.0,294.8 L530.0,292.2 L531.0,289.5 L532.0,286.8 L533.0,283.9 L534.0,281.0 L535.0,278.0 L536.0,275.1 L537.0,272.3 L538.0,269.6 L539.0,267.1 L540.0,264.8 L541.0,262.8 L542.0,261.2 L543.0,260.0 L544.0,259.2 L545.0,259.0 L546.0,259.2 L547.0,260.0 L548.0,261.2 L549.0,262.8 L550.0,264.8 L551.0,267.1 L552.0,269.6 L553.0,272.3 L554.0,275.1 L555.0,278.0 L556.0,281.0 L557.0,283.9 L558.0,286.8 L559.0,289.5 L560.0,292.2 L561.0,294.8 L562.0,297.3 L563.0,299.6 L564.0,301.8 L565.0,303.8 L566.0,305.7 L567.0,307.5 L568.0,309.1 L569.0,310.5 L570.0,311.8 L571.0,313.1 L572.0,314.1 L573.0,315.1 L574.0,316.0 L575.0,316.8 L576.0,317.5 L577.0,318.1 L578.0,318.6 L579.0,319.1 L580.0,319.6 L581.0,320.0 L582.0,320.3 L583.0,320.6 L584.0,320.9 L585.0,321.2 L586.0,321.4 L587.0,321.6 L588.0,321.8 L589.0,322.0 L590.0,322.1 L591.0,322.3 L592.0,322.4 L593.0,322.5 L594.0,322.6 L595.0,322.7 L596.0,322.8 L597.0,322.9 L598.0,323.0 L599.0,323.1 L600.0,323.2 L601.0,323.3 L602.0,323.3 L603.0,323.4 L604.0,323.5 L605.0,323.5 L606.0,323.6 L607.0,323.7 L608.0,323.7 L609.0,323.8 L610.0,323.8 L611.0,323.9 L612.0,323.9 L613.0,324.0 L614.0,324.0 L615.0,324.0 L616.0,324.1 L617.0,324.1 L618.0,324.2 L619.0,324.2 L620.0,324.2 L621.0,324.3 L622.0,324.3 L623.0,324.3 L624.0,324.3 L625.0,324.4 L626.0,324.4 L627.0,324.4 L628.0,324.4 L629.0,324.5 L630.0,324.5 L631.0,324.5 L632.0,324.5 L633.0,324.6 L634.0,324.6 L635.0,324.6 L636.0,324.6 L637.0,324.6 L638.0,324.7 L639.0,324.7 L640.0,324.7 L641.0,324.7 L642.0,324.7 L643.0,324.7 L644.0,324.8 L645.0,324.8 L646.0,324.8 L647.0,324.8 L648.0,324.8 L649.0,324.8 L650.0,324.8 L651.0,324.8 L652.0,324.9 L653.0,324.9 L654.0,324.9 L655.0,324.9 L656.0,324.9 L657.0,324.9 L658.0,324.9 L659.0,324.9 L660.0,324.9 L661.0,325.0 L662.0,325.0 L663.0,325.0 L664.0,325.0 L665.0,325.0 L666.0,325.0 L667.0,325.0 L668.0,325.0 L669.0,325.0 L670.0,325.0 L671.0,325.0 L672.0,325.0 L673.0,325.0" fill="none" stroke="#0c0cb0" stroke-width="1.3" stroke-linejoin="round" stroke-linecap="butt" stroke-dasharray="2.2,1.9"/>
<path d="M481.0,316.0 C483.3,315.8 490.1,315.7 494.8,314.6 C499.6,313.5 505.6,311.8 509.5,309.6 C513.5,307.5 515.5,305.6 518.5,301.7 C521.5,297.8 524.8,291.6 527.4,286.0 C530.0,280.4 532.0,274.5 534.1,268.1 C536.2,261.8 538.1,254.2 539.8,247.9 C541.5,241.6 542.8,236.2 544.2,230.0 C545.6,223.8 547.1,215.9 548.4,211.0 C549.7,206.1 550.9,203.1 552.0,200.5 C553.1,197.9 554.0,196.7 555.0,195.5 C556.0,194.3 556.8,193.8 557.8,193.6 C558.8,193.4 560.0,193.9 561.0,194.3 C562.0,194.7 562.8,194.2 564.1,196.0 C565.4,197.8 566.9,199.5 568.6,205.1 C570.3,210.7 572.1,221.1 574.1,229.7 C576.1,238.3 578.9,249.6 580.9,256.6 C582.9,263.7 584.0,267.4 586.0,272.0 C588.0,276.6 590.1,280.6 593.2,284.0 C596.3,287.4 600.2,290.4 604.4,292.4 C608.5,294.3 613.7,294.7 618.1,295.7 C622.5,296.7 627.4,297.3 631.0,298.5 C634.6,299.7 636.5,301.2 639.7,302.8 C642.9,304.4 646.8,306.2 650.4,308.2 C654.0,310.2 657.4,312.7 661.2,314.7 C665.0,316.7 671.0,319.1 673.0,320.0" fill="none" stroke="#000" stroke-width="2.0" stroke-linejoin="round" stroke-linecap="round" />
</g>
<rect x="29" y="7" width="192" height="141" fill="none" stroke="#000" stroke-width="2"/>
<rect x="29" y="186" width="192" height="141" fill="none" stroke="#000" stroke-width="2"/>
<rect x="253" y="7" width="192" height="141" fill="none" stroke="#000" stroke-width="2"/>
<rect x="253" y="186" width="192" height="141" fill="none" stroke="#000" stroke-width="2"/>
<rect x="481" y="7" width="192" height="141" fill="none" stroke="#000" stroke-width="2"/>
<rect x="481" y="186" width="192" height="141" fill="none" stroke="#000" stroke-width="2"/>
<line x1="47.7" y1="144" x2="47.7" y2="148" stroke="#000" stroke-width="1.6"/>
<line x1="86.1" y1="144" x2="86.1" y2="148" stroke="#000" stroke-width="1.6"/>
<line x1="124.5" y1="144" x2="124.5" y2="148" stroke="#000" stroke-width="1.6"/>
<line x1="162.9" y1="144" x2="162.9" y2="148" stroke="#000" stroke-width="1.6"/>
<line x1="201.3" y1="144" x2="201.3" y2="148" stroke="#000" stroke-width="1.6"/>
<line x1="291.4" y1="144" x2="291.4" y2="148" stroke="#000" stroke-width="1.6"/>
<line x1="329.8" y1="144" x2="329.8" y2="148" stroke="#000" stroke-width="1.6"/>
<line x1="368.2" y1="144" x2="368.2" y2="148" stroke="#000" stroke-width="1.6"/>
<line x1="406.6" y1="144" x2="406.6" y2="148" stroke="#000" stroke-width="1.6"/>
<line x1="516.5" y1="144" x2="516.5" y2="148" stroke="#000" stroke-width="1.6"/>
<line x1="564.5" y1="144" x2="564.5" y2="148" stroke="#000" stroke-width="1.6"/>
<line x1="612.5" y1="144" x2="612.5" y2="148" stroke="#000" stroke-width="1.6"/>
<line x1="661.0" y1="144" x2="661.0" y2="148" stroke="#000" stroke-width="1.6"/>
<line x1="67.4" y1="323" x2="67.4" y2="327" stroke="#000" stroke-width="1.6"/>
<line x1="118.6" y1="323" x2="118.6" y2="327" stroke="#000" stroke-width="1.6"/>
<line x1="169.8" y1="323" x2="169.8" y2="327" stroke="#000" stroke-width="1.6"/>
<line x1="291.4" y1="323" x2="291.4" y2="327" stroke="#000" stroke-width="1.6"/>
<line x1="342.6" y1="323" x2="342.6" y2="327" stroke="#000" stroke-width="1.6"/>
<line x1="393.8" y1="323" x2="393.8" y2="327" stroke="#000" stroke-width="1.6"/>
<line x1="519.4" y1="323" x2="519.4" y2="327" stroke="#000" stroke-width="1.6"/>
<line x1="570.6" y1="323" x2="570.6" y2="327" stroke="#000" stroke-width="1.6"/>
<line x1="621.8" y1="323" x2="621.8" y2="327" stroke="#000" stroke-width="1.6"/>
<text x="47.900000000000006" y="159.6" font-size="11.3" fill="#000" stroke="#000" stroke-width="0.3" text-anchor="middle" >360</text>
<text x="86.3" y="159.6" font-size="11.3" fill="#000" stroke="#000" stroke-width="0.3" text-anchor="middle" >380</text>
<text x="124.7" y="159.6" font-size="11.3" fill="#000" stroke="#000" stroke-width="0.3" text-anchor="middle" >400</text>
<text x="163.1" y="159.6" font-size="11.3" fill="#000" stroke="#000" stroke-width="0.3" text-anchor="middle" >420</text>
<text x="201.5" y="159.6" font-size="11.3" fill="#000" stroke="#000" stroke-width="0.3" text-anchor="middle" >440</text>
<text x="290.79999999999995" y="159.6" font-size="11.3" fill="#000" stroke="#000" stroke-width="0.3" text-anchor="middle" >1000</text>
<text x="329.2" y="159.6" font-size="11.3" fill="#000" stroke="#000" stroke-width="0.3" text-anchor="middle" >1200</text>
<text x="367.59999999999997" y="159.6" font-size="11.3" fill="#000" stroke="#000" stroke-width="0.3" text-anchor="middle" >1400</text>
<text x="406.0" y="159.6" font-size="11.3" fill="#000" stroke="#000" stroke-width="0.3" text-anchor="middle" >1600</text>
<text x="515.7" y="159.6" font-size="11.3" fill="#000" stroke="#000" stroke-width="0.3" text-anchor="middle" >1.8</text>
<text x="563.7" y="159.6" font-size="11.3" fill="#000" stroke="#000" stroke-width="0.3" text-anchor="middle" >1.9</text>
<text x="611.7" y="159.6" font-size="11.3" fill="#000" stroke="#000" stroke-width="0.3" text-anchor="middle" >2.0</text>
<text x="659.7" y="159.6" font-size="11.3" fill="#000" stroke="#000" stroke-width="0.3" text-anchor="middle" >2.1</text>
<text x="66.7" y="338.9" font-size="11.3" fill="#000" stroke="#000" stroke-width="0.3" text-anchor="middle" >1.8</text>
<text x="117.89999999999999" y="338.9" font-size="11.3" fill="#000" stroke="#000" stroke-width="0.3" text-anchor="middle" >1.9</text>
<text x="169.10000000000002" y="338.9" font-size="11.3" fill="#000" stroke="#000" stroke-width="0.3" text-anchor="middle" >2.0</text>
<text x="290.7" y="338.9" font-size="11.3" fill="#000" stroke="#000" stroke-width="0.3" text-anchor="middle" >1.8</text>
<text x="341.90000000000003" y="338.9" font-size="11.3" fill="#000" stroke="#000" stroke-width="0.3" text-anchor="middle" >1.9</text>
<text x="393.1" y="338.9" font-size="11.3" fill="#000" stroke="#000" stroke-width="0.3" text-anchor="middle" >2.0</text>
<text x="518.6999999999999" y="338.9" font-size="11.3" fill="#000" stroke="#000" stroke-width="0.3" text-anchor="middle" >1.8</text>
<text x="569.9" y="338.9" font-size="11.3" fill="#000" stroke="#000" stroke-width="0.3" text-anchor="middle" >1.9</text>
<text x="621.0999999999999" y="338.9" font-size="11.3" fill="#000" stroke="#000" stroke-width="0.3" text-anchor="middle" >2.0</text>
<text x="125.7" y="174.5" font-size="12.8" fill="#000" stroke="#000" stroke-width="0.3" text-anchor="middle" >Raman shift (cm<tspan font-size="8" dy="-5">-1</tspan><tspan dy="5">)</tspan></text>
<text x="350.1" y="174.5" font-size="12.8" fill="#000" stroke="#000" stroke-width="0.3" text-anchor="middle" >Raman shift (cm<tspan font-size="8" dy="-5">-1</tspan><tspan dy="5">)</tspan></text>
<text x="579.4" y="174" font-size="12.8" fill="#000" stroke="#000" stroke-width="0.3" text-anchor="middle" >Energy(eV)</text>
<text x="131.2" y="353" font-size="12.8" fill="#000" stroke="#000" stroke-width="0.3" text-anchor="middle" >Energy(eV)</text>
<text x="355.8" y="353" font-size="12.8" fill="#000" stroke="#000" stroke-width="0.3" text-anchor="middle" >Energy(eV)</text>
<text x="583.2" y="353" font-size="12.8" fill="#000" stroke="#000" stroke-width="0.3" text-anchor="middle" >Energy(eV)</text>
<text x="0" y="0" font-size="12.8" fill="#000" stroke="#000" stroke-width="0.3" text-anchor="middle" transform="translate(18.7,82.4) rotate(-90)">Intensity (a.u.)</text>
<text x="0" y="0" font-size="12.8" fill="#000" stroke="#000" stroke-width="0.3" text-anchor="middle" transform="translate(472.3,83.2) rotate(-90)">PL Intensity (a.u.)</text>
<text x="0" y="0" font-size="12.8" fill="#000" stroke="#000" stroke-width="0.3" text-anchor="middle" transform="translate(242.8,82.4) rotate(-90)">Intensity (a.u.)</text>
<text x="0" y="0" font-size="12.8" fill="#000" stroke="#000" stroke-width="0.3" text-anchor="middle" transform="translate(18.2,260.7) rotate(-90)">PL Intensity (a.u.)</text>
<text x="0" y="0" font-size="12.8" fill="#000" stroke="#000" stroke-width="0.3" text-anchor="middle" transform="translate(242.7,260.7) rotate(-90)">PL Intensity (a.u.)</text>
<text x="0" y="0" font-size="12.8" fill="#000" stroke="#000" stroke-width="0.3" text-anchor="middle" transform="translate(471.3,260.7) rotate(-90)">PL Intensity (a.u.)</text>
<text x="0.8" y="12.2" font-size="14.5" fill="#000" text-anchor="start" >(a)</text>
<text x="224.2" y="12.2" font-size="14.5" fill="#000" text-anchor="start" >(b)</text>
<text x="451.2" y="12.2" font-size="14.5" fill="#000" text-anchor="start" >(c)</text>
<text x="0.5" y="189.1" font-size="14.5" fill="#000" text-anchor="start" >(d)</text>
<text x="224.7" y="189.1" font-size="14.5" fill="#000" text-anchor="start" >(e)</text>
<text x="451.5" y="189.1" font-size="14.5" fill="#000" text-anchor="start" >(f)</text>
<text x="218" y="75.7" font-size="10.6" fill="#0c0cb0" stroke="#0c0cb0" stroke-width="0.3" text-anchor="end" >H<tspan font-size="7.5" dy="3">2</tspan><tspan dy="-3">O 10 sccm</tspan></text>
<text x="217" y="102.2" font-size="10.6" fill="#d81820" stroke="#d81820" stroke-width="0.3" text-anchor="end" >H<tspan font-size="7.5" dy="3">2</tspan><tspan dy="-3">O 1 sccm</tspan></text>
<text x="217" y="129.7" font-size="10.6" fill="#000" stroke="#000" stroke-width="0.3" text-anchor="end" >w/o H<tspan font-size="7.5" dy="3">2</tspan><tspan dy="-3">O</tspan></text>
<text x="42.5" y="20.7" font-size="10.6" fill="#000" stroke="#000" stroke-width="0.3" text-anchor="start" >E<tspan font-size="7" dy="-4.5">1</tspan><tspan font-size="7" dy="7">2g</tspan><tspan dy="-2.5">: 382 cm</tspan><tspan font-size="6.5" dy="-4.5">-1</tspan></text>
<text x="152.4" y="21.7" font-size="10.6" fill="#000" stroke="#000" stroke-width="0.3" text-anchor="start" >A<tspan font-size="7.5" dy="2.5">1g</tspan><tspan dy="-2.5">: 404 cm</tspan><tspan font-size="6.5" dy="-4.5">-1</tspan></text>
<line x1="73.1" y1="27.6" x2="82.7" y2="43.1" stroke="#000" stroke-width="1.0"/>
<polygon points="85.8,48.2 80.1,44.7 85.2,41.5" fill="#000"/>
<line x1="156.3" y1="28.5" x2="150.3" y2="35.7" stroke="#000" stroke-width="1.0"/>
<polygon points="146.5,40.3 148.0,33.8 152.6,37.6" fill="#000"/>
<text x="258.9" y="59.9" font-size="10.6" fill="#0c0cb0" stroke="#0c0cb0" stroke-width="0.3" text-anchor="start" >H<tspan font-size="7.5" dy="3">2</tspan><tspan dy="-3">O 10 sccm</tspan></text>
<text x="258.9" y="103.1" font-size="10.6" fill="#d81820" stroke="#d81820" stroke-width="0.3" text-anchor="start" >H<tspan font-size="7.5" dy="3">2</tspan><tspan dy="-3">O 1 sccm</tspan></text>
<text x="258.9" y="142.8" font-size="10.6" fill="#000" stroke="#000" stroke-width="0.3" text-anchor="start" >w/o H<tspan font-size="7.5" dy="3">2</tspan><tspan dy="-3">O</tspan></text>
<text x="382.4" y="140.7" font-size="10.6" fill="#d81820" stroke="#d81820" stroke-width="0.3" text-anchor="middle" >a-C</text>
<line x1="369.4" y1="131.1" x2="357.7" y2="111.8" stroke="#d81820" stroke-width="1.5"/>
<polygon points="354.6,106.7 360.4,110.2 355.0,113.5" fill="#d81820"/>
<line x1="393.9" y1="131.9" x2="399.1" y2="125.4" stroke="#d81820" stroke-width="1.5"/>
<polygon points="402.8,120.7 401.6,127.4 396.6,123.4" fill="#d81820"/>
<text x="659.3" y="20.7" font-size="10.6" fill="#0c0cb0" stroke="#0c0cb0" stroke-width="0.3" text-anchor="end" >H<tspan font-size="7.5" dy="3">2</tspan><tspan dy="-3">O 10 sccm</tspan></text>
<text x="659.3" y="38.4" font-size="10.6" fill="#d81820" stroke="#d81820" stroke-width="0.3" text-anchor="end" >H<tspan font-size="7.5" dy="3">2</tspan><tspan dy="-3">O 1 sccm</tspan></text>
<text x="661.3" y="56" font-size="10.6" fill="#000" stroke="#000" stroke-width="0.3" text-anchor="end" >w/o&#160;&#160;H<tspan font-size="7.5" dy="3">2</tspan><tspan dy="-3">O</tspan></text>
<text x="207.3" y="200.8" font-size="10.6" fill="#000" stroke="#000" stroke-width="0.3" text-anchor="end" >w/o H<tspan font-size="7.5" dy="3">2</tspan><tspan dy="-3">O</tspan></text>
<text x="163.6" y="219.3" font-size="10.6" fill="#1a7e1a" stroke="#1a7e1a" stroke-width="0.3" text-anchor="middle" >B</text>
<text x="70" y="286.6" font-size="10.6" fill="#0c0cb0" stroke="#0c0cb0" stroke-width="0.3" text-anchor="start" >A<tspan font-size="7.5" dy="-4.5">-</tspan></text>
<text x="96" y="316.5" font-size="10.6" fill="#d81820" stroke="#d81820" stroke-width="0.3" text-anchor="start" >A<tspan font-size="9" dy="-4">o</tspan></text>
<text x="428.8" y="200.8" font-size="10.6" fill="#000" stroke="#000" stroke-width="0.3" text-anchor="end" >H<tspan font-size="7.5" dy="3">2</tspan><tspan dy="-3">O 1 sccm</tspan></text>
<text x="296" y="231.2" font-size="10.6" fill="#0c0cb0" stroke="#0c0cb0" stroke-width="0.3" text-anchor="start" >A<tspan font-size="7.5" dy="-4.5">-</tspan></text>
<text x="350.4" y="271.6" font-size="10.6" fill="#d81820" stroke="#d81820" stroke-width="0.3" text-anchor="start" >A<tspan font-size="9" dy="-4">o</tspan></text>
<text x="388.1" y="295.3" font-size="10.6" fill="#1a7e1a" stroke="#1a7e1a" stroke-width="0.3" text-anchor="middle" >B</text>
<text x="656.9" y="200.9" font-size="10.6" fill="#000" stroke="#000" stroke-width="0.3" text-anchor="end" >H<tspan font-size="7.5" dy="3">2</tspan><tspan dy="-3">O 10 sccm</tspan></text>
<text x="520.5" y="260.8" font-size="10.6" fill="#0c0cb0" stroke="#0c0cb0" stroke-width="0.3" text-anchor="start" >A<tspan font-size="7.5" dy="-4.5">-</tspan></text>
<text x="578.2" y="220.7" font-size="10.6" fill="#d81820" stroke="#d81820" stroke-width="0.3" text-anchor="start" >A<tspan font-size="9" dy="-4">o</tspan></text>
<text x="620.2" y="287.7" font-size="10.6" fill="#1a7e1a" stroke="#1a7e1a" stroke-width="0.3" text-anchor="middle" >B</text></svg></body></html>
